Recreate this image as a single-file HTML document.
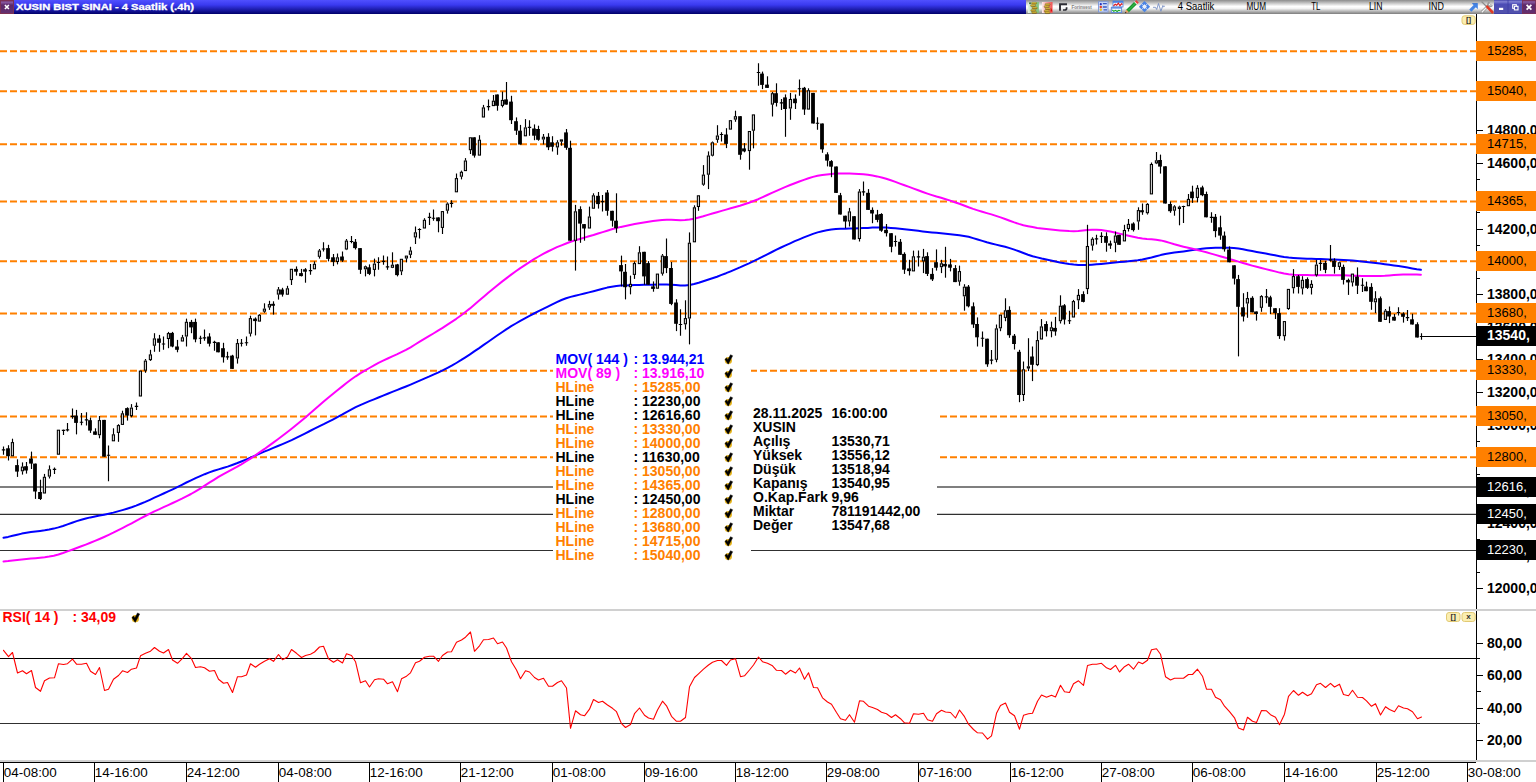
<!DOCTYPE html>
<html><head><meta charset="utf-8"><title>XUSIN</title><style>
html,body{margin:0;padding:0;background:#fff;overflow:hidden}
body{width:1536px;height:782px;position:relative;font-family:"Liberation Sans",sans-serif}
svg{position:absolute;left:0;top:0;display:block}
text{font-family:"Liberation Sans",sans-serif}
.ax{font-weight:bold;font-size:14px;fill:#000}
.lg{font-weight:bold;font-size:14px}
.pl{font-size:13px}
.tm{font-size:13px;fill:#000}
.tb{font-size:10px;fill:#000}
</style></head><body>
<svg width="1536" height="782" viewBox="0 0 1536 782">
<defs>
<linearGradient id="gb" x1="0" y1="0" x2="0" y2="1"><stop offset="0" stop-color="#5050ff"/><stop offset="0.35" stop-color="#3a3af0"/><stop offset="1" stop-color="#00006a"/></linearGradient>
<linearGradient id="gs" x1="0" y1="0" x2="0" y2="1"><stop offset="0" stop-color="#8c8c8c"/><stop offset="0.45" stop-color="#ffffff"/><stop offset="0.6" stop-color="#f4f4f4"/><stop offset="1" stop-color="#7c7c7c"/></linearGradient>
<linearGradient id="gp" x1="0" y1="0" x2="0" y2="1"><stop offset="0" stop-color="#8a5c9c"/><stop offset="1" stop-color="#4c2460"/></linearGradient>
<linearGradient id="gw" x1="0" y1="0" x2="0" y2="1"><stop offset="0" stop-color="#6a6ae0"/><stop offset="1" stop-color="#2c2c98"/></linearGradient>
<g id="ck" transform="translate(0,0.6)"><circle cx="-0.1" cy="0.5" r="3.6" fill="#e6b41c"/><path d="M-3.6,-0.7 L-0.3,4.2 L4.2,-4.2 L2.0,-5.3 L-0.7,-0.3 L-1.7,-2.1 Z" fill="#000" stroke="#000" stroke-width="0.4" stroke-linejoin="round"/></g>
</defs>
<rect x="0" y="0" width="1536" height="782" fill="#fff"/>
<line x1="0" y1="51.20" x2="1476" y2="51.20" stroke="#ff8000" stroke-width="2" stroke-dasharray="7 3"/>
<line x1="0" y1="91.24" x2="1476" y2="91.24" stroke="#ff8000" stroke-width="2" stroke-dasharray="7 3"/>
<line x1="0" y1="144.35" x2="1476" y2="144.35" stroke="#ff8000" stroke-width="2" stroke-dasharray="7 3"/>
<line x1="0" y1="201.55" x2="1476" y2="201.55" stroke="#ff8000" stroke-width="2" stroke-dasharray="7 3"/>
<line x1="0" y1="261.19" x2="1476" y2="261.19" stroke="#ff8000" stroke-width="2" stroke-dasharray="7 3"/>
<line x1="0" y1="313.49" x2="1476" y2="313.49" stroke="#ff8000" stroke-width="2" stroke-dasharray="7 3"/>
<line x1="0" y1="370.69" x2="1476" y2="370.69" stroke="#ff8000" stroke-width="2" stroke-dasharray="7 3"/>
<line x1="0" y1="416.44" x2="1476" y2="416.44" stroke="#ff8000" stroke-width="2" stroke-dasharray="7 3"/>
<line x1="0" y1="457.30" x2="1476" y2="457.30" stroke="#ff8000" stroke-width="2" stroke-dasharray="7 3"/>
<line x1="0" y1="486.96" x2="1476" y2="486.96" stroke="#000" stroke-width="1.05"/>
<line x1="0" y1="514.35" x2="1476" y2="514.35" stroke="#303030" stroke-width="1.05"/>
<line x1="0" y1="550.4" x2="1476" y2="550.4" stroke="#303030" stroke-width="1.05"/>
<polyline points="3.5,537.8 8.1,536.9 12.6,535.8 17.2,534.7 21.8,533.6 26.4,532.8 30.9,532.1 35.5,531.4 40.1,530.9 44.7,530.3 49.2,529.6 53.8,528.6 58.4,527.4 63.0,526.0 67.5,524.4 72.1,522.7 76.7,521.1 81.3,519.7 85.8,518.5 90.4,517.4 95.0,516.5 99.5,515.6 104.1,514.7 108.7,513.7 113.3,512.6 117.8,511.4 122.4,510.1 127.0,508.7 131.6,507.2 136.1,505.6 140.7,503.8 145.3,501.9 149.9,499.8 154.4,497.7 159.0,495.6 163.6,493.5 168.2,491.4 172.7,489.3 177.3,487.1 181.9,484.8 186.4,482.5 191.0,480.3 195.6,478.1 200.2,476.1 204.7,474.2 209.3,472.4 213.9,470.8 218.5,469.4 223.0,468.0 227.6,466.6 232.2,465.0 236.8,463.3 241.3,461.5 245.9,459.6 250.5,457.7 255.1,455.7 259.6,453.7 264.2,451.7 268.8,449.8 273.3,447.9 277.9,446.0 282.5,444.1 287.1,442.1 291.6,440.1 296.2,437.9 300.8,435.6 305.4,433.3 309.9,431.0 314.5,428.7 319.1,426.4 323.7,424.2 328.2,421.9 332.8,419.6 337.4,417.2 342.0,414.7 346.5,412.1 351.1,409.6 355.7,407.2 360.2,405.1 364.8,403.1 369.4,401.2 374.0,399.3 378.5,397.5 383.1,395.6 387.7,393.8 392.3,391.9 396.8,390.1 401.4,388.3 406.0,386.5 410.6,384.6 415.1,382.7 419.7,380.7 424.3,378.7 428.9,376.7 433.4,374.6 438.0,372.6 442.6,370.4 447.1,368.1 451.7,365.7 456.3,363.0 460.9,360.2 465.4,357.3 470.0,354.3 474.6,351.2 479.2,348.1 483.7,344.9 488.3,341.7 492.9,338.5 497.5,335.3 502.0,332.2 506.6,329.1 511.2,326.2 515.8,323.5 520.3,320.8 524.9,318.3 529.5,315.9 534.0,313.5 538.6,311.2 543.2,308.9 547.8,306.6 552.3,304.3 556.9,302.1 561.5,300.0 566.1,298.3 570.6,296.9 575.2,295.7 579.8,294.6 584.4,293.5 588.9,292.4 593.5,291.2 598.1,290.0 602.7,288.7 607.2,287.6 611.8,286.7 616.4,286.0 620.9,285.6 625.5,285.4 630.1,285.2 634.7,285.1 639.2,285.0 643.8,284.8 648.4,284.7 653.0,284.7 657.5,284.6 662.1,284.5 666.7,284.5 671.3,284.7 675.8,285.0 680.4,285.4 685.0,285.4 689.6,284.9 694.1,284.0 698.7,282.7 703.3,281.2 707.8,279.8 712.4,278.3 717.0,276.7 721.6,274.9 726.1,273.2 730.7,271.3 735.3,269.4 739.9,267.4 744.4,265.3 749.0,263.3 753.6,261.1 758.2,258.9 762.7,256.6 767.3,254.3 771.9,252.0 776.5,249.7 781.0,247.5 785.6,245.4 790.2,243.3 794.8,241.2 799.3,239.3 803.9,237.4 808.5,235.6 813.0,233.9 817.6,232.4 822.2,231.2 826.8,230.3 831.3,229.6 835.9,229.1 840.5,228.8 845.1,228.7 849.6,228.6 854.2,228.5 858.8,228.3 863.4,228.1 867.9,227.9 872.5,227.6 877.1,227.5 881.7,227.4 886.2,227.6 890.8,227.9 895.4,228.3 899.9,228.7 904.5,229.2 909.1,229.7 913.7,230.2 918.2,230.8 922.8,231.4 927.4,231.9 932.0,232.4 936.5,232.8 941.1,233.3 945.7,233.8 950.3,234.2 954.8,234.7 959.4,235.2 964.0,235.9 968.6,236.8 973.1,238.1 977.7,239.5 982.3,240.9 986.8,242.3 991.4,243.5 996.0,244.6 1000.6,245.7 1005.1,246.8 1009.7,248.1 1014.3,249.6 1018.9,251.3 1023.4,253.0 1028.0,254.7 1032.6,256.2 1037.2,257.4 1041.7,258.5 1046.3,259.5 1050.9,260.4 1055.5,261.4 1060.0,262.4 1064.6,263.3 1069.2,264.0 1073.7,264.5 1078.3,264.9 1082.9,265.0 1087.5,265.0 1092.0,264.7 1096.6,264.3 1101.2,263.9 1105.8,263.4 1110.3,263.0 1114.9,262.5 1119.5,262.1 1124.1,261.7 1128.6,261.3 1133.2,260.8 1137.8,260.3 1142.4,259.6 1146.9,258.6 1151.5,257.5 1156.1,256.2 1160.6,255.1 1165.2,254.1 1169.8,253.3 1174.4,252.6 1178.9,252.0 1183.5,251.4 1188.1,250.8 1192.7,250.1 1197.2,249.4 1201.8,248.8 1206.4,248.2 1211.0,247.9 1215.5,247.7 1220.1,247.7 1224.7,247.7 1229.3,247.8 1233.8,248.0 1238.4,248.5 1243.0,249.3 1247.5,250.2 1252.1,251.1 1256.7,252.0 1261.3,252.8 1265.8,253.6 1270.4,254.4 1275.0,255.3 1279.6,256.2 1284.1,257.0 1288.7,257.6 1293.3,258.0 1297.9,258.3 1302.4,258.5 1307.0,258.7 1311.6,258.8 1316.2,259.0 1320.7,259.1 1325.3,259.3 1329.9,259.4 1334.4,259.6 1339.0,259.8 1343.6,260.0 1348.2,260.3 1352.7,260.6 1357.3,261.0 1361.9,261.4 1366.5,261.9 1371.0,262.4 1375.6,263.0 1380.2,263.6 1384.8,264.2 1389.3,264.8 1393.9,265.5 1398.5,266.1 1403.1,266.8 1407.6,267.6 1412.2,268.4 1416.8,269.2 1420.9,269.8" fill="none" stroke="#0000ff" stroke-width="2" stroke-linejoin="round" stroke-linecap="round"/>
<polyline points="3.5,561.5 8.1,561.1 12.6,560.6 17.2,560.1 21.8,559.6 26.4,559.1 30.9,558.6 35.5,558.2 40.1,557.7 44.7,557.2 49.2,556.6 53.8,555.7 58.4,554.5 63.0,553.0 67.5,551.4 72.1,549.7 76.7,548.0 81.3,546.3 85.8,544.6 90.4,542.8 95.0,540.9 99.5,539.0 104.1,537.0 108.7,534.9 113.3,532.7 117.8,530.4 122.4,528.1 127.0,525.7 131.6,523.3 136.1,520.8 140.7,518.4 145.3,516.0 149.9,513.6 154.4,511.4 159.0,509.3 163.6,507.2 168.2,505.1 172.7,503.0 177.3,500.9 181.9,498.7 186.4,496.4 191.0,494.0 195.6,491.4 200.2,488.7 204.7,485.7 209.3,482.7 213.9,479.8 218.5,476.9 223.0,474.3 227.6,471.8 232.2,469.3 236.8,466.9 241.3,464.3 245.9,461.5 250.5,458.6 255.1,455.5 259.6,452.3 264.2,449.2 268.8,445.9 273.3,442.6 277.9,439.2 282.5,435.7 287.1,432.2 291.6,428.7 296.2,425.0 300.8,421.3 305.4,417.5 309.9,413.5 314.5,409.5 319.1,405.5 323.7,401.5 328.2,397.7 332.8,394.0 337.4,390.3 342.0,386.6 346.5,383.0 351.1,379.5 355.7,376.3 360.2,373.4 364.8,370.7 369.4,368.0 374.0,365.4 378.5,362.9 383.1,360.6 387.7,358.5 392.3,356.4 396.8,354.4 401.4,352.2 406.0,349.9 410.6,347.3 415.1,344.5 419.7,341.7 424.3,338.9 428.9,336.2 433.4,333.5 438.0,330.7 442.6,327.9 447.1,324.9 451.7,321.9 456.3,318.8 460.9,315.5 465.4,312.0 470.0,308.4 474.6,304.5 479.2,300.6 483.7,296.7 488.3,292.8 492.9,289.0 497.5,285.2 502.0,281.6 506.6,278.1 511.2,274.6 515.8,271.3 520.3,268.1 524.9,265.1 529.5,262.1 534.0,259.2 538.6,256.5 543.2,253.9 547.8,251.5 552.3,249.3 556.9,247.2 561.5,245.3 566.1,243.5 570.6,241.8 575.2,240.3 579.8,239.0 584.4,237.6 588.9,236.3 593.5,235.0 598.1,233.5 602.7,232.1 607.2,230.7 611.8,229.3 616.4,228.0 620.9,226.9 625.5,225.9 630.1,224.9 634.7,224.0 639.2,223.2 643.8,222.4 648.4,221.7 653.0,221.0 657.5,220.4 662.1,219.9 666.7,219.7 671.3,219.8 675.8,220.0 680.4,220.2 685.0,220.1 689.6,219.6 694.1,218.7 698.7,217.5 703.3,216.3 707.8,214.9 712.4,213.5 717.0,212.2 721.6,210.9 726.1,209.6 730.7,208.3 735.3,207.0 739.9,205.7 744.4,204.2 749.0,202.7 753.6,201.0 758.2,199.2 762.7,197.1 767.3,195.0 771.9,192.9 776.5,190.8 781.0,188.8 785.6,186.9 790.2,185.0 794.8,183.2 799.3,181.5 803.9,179.9 808.5,178.3 813.0,176.9 817.6,175.8 822.2,175.0 826.8,174.4 831.3,173.9 835.9,173.6 840.5,173.5 845.1,173.5 849.6,173.6 854.2,173.7 858.8,173.9 863.4,174.3 867.9,174.8 872.5,175.5 877.1,176.4 881.7,177.5 886.2,178.8 890.8,180.3 895.4,181.9 899.9,183.6 904.5,185.3 909.1,186.9 913.7,188.6 918.2,190.3 922.8,192.0 927.4,193.6 932.0,195.1 936.5,196.5 941.1,197.8 945.7,199.2 950.3,200.6 954.8,202.2 959.4,203.8 964.0,205.5 968.6,207.3 973.1,208.9 977.7,210.4 982.3,211.8 986.8,213.1 991.4,214.4 996.0,215.9 1000.6,217.4 1005.1,219.0 1009.7,220.7 1014.3,222.4 1018.9,223.9 1023.4,225.2 1028.0,226.2 1032.6,227.1 1037.2,227.9 1041.7,228.5 1046.3,229.1 1050.9,229.6 1055.5,230.0 1060.0,230.4 1064.6,230.8 1069.2,231.1 1073.7,231.2 1078.3,231.0 1082.9,230.5 1087.5,230.0 1092.0,229.7 1096.6,229.8 1101.2,230.1 1105.8,230.7 1110.3,231.6 1114.9,232.5 1119.5,233.6 1124.1,234.8 1128.6,235.8 1133.2,236.8 1137.8,237.7 1142.4,238.4 1146.9,238.9 1151.5,239.3 1156.1,239.7 1160.6,240.4 1165.2,241.5 1169.8,242.9 1174.4,244.3 1178.9,245.5 1183.5,246.7 1188.1,247.8 1192.7,248.8 1197.2,250.0 1201.8,251.1 1206.4,252.3 1211.0,253.6 1215.5,254.9 1220.1,256.2 1224.7,257.5 1229.3,258.9 1233.8,260.2 1238.4,261.6 1243.0,263.0 1247.5,264.3 1252.1,265.6 1256.7,266.8 1261.3,268.0 1265.8,269.1 1270.4,270.3 1275.0,271.4 1279.6,272.6 1284.1,273.6 1288.7,274.3 1293.3,274.7 1297.9,274.9 1302.4,275.0 1307.0,275.1 1311.6,275.2 1316.2,275.2 1320.7,275.2 1325.3,275.2 1329.9,275.2 1334.4,275.2 1339.0,275.3 1343.6,275.3 1348.2,275.5 1352.7,275.7 1357.3,275.8 1361.9,275.9 1366.5,276.0 1371.0,276.0 1375.6,276.0 1380.2,275.9 1384.8,275.8 1389.3,275.5 1393.9,275.1 1398.5,274.8 1403.1,274.6 1407.6,274.5 1412.2,274.6 1416.8,274.6 1420.9,274.7" fill="none" stroke="#ff00ff" stroke-width="2" stroke-linejoin="round" stroke-linecap="round"/>
<g>
<path d="M3.5,446.4V454.8M1.8,449.8H5.2" stroke="#000" stroke-width="1.15" fill="none"/>
<path d="M8.5,445.2V460.5" stroke="#000" stroke-width="1.15" fill="none"/>
<rect x="6.1" y="448.3" width="3.8" height="7.9" fill="#000"/>
<path d="M12.5,438.7V442.1" stroke="#000" stroke-width="1.15" fill="none"/>
<rect x="11.35" y="442.6" width="2.15" height="13.2" fill="#d2d2d2" stroke="#000" stroke-width="1.05"/>
<path d="M17.5,459.3V476.9" stroke="#000" stroke-width="1.15" fill="none"/>
<rect x="15.1" y="465.1" width="3.8" height="6.5" fill="#000"/>
<path d="M22.5,462.4V466.7" stroke="#000" stroke-width="1.15" fill="none"/>
<path d="M22.5,471.3V474.6" stroke="#000" stroke-width="1.15" fill="none"/>
<rect x="21.35" y="467.1" width="2.15" height="3.7" fill="#d2d2d2" stroke="#000" stroke-width="1.05"/>
<path d="M26.5,462.0V473.6" stroke="#000" stroke-width="1.15" fill="none"/>
<rect x="24.1" y="466.2" width="3.8" height="4.3" fill="#000"/>
<path d="M31.5,451.6V469.0" stroke="#000" stroke-width="1.15" fill="none"/>
<rect x="29.1" y="458.5" width="3.8" height="5.1" fill="#000"/>
<path d="M35.5,463.6V498.9" stroke="#000" stroke-width="1.15" fill="none"/>
<rect x="33.1" y="463.6" width="3.8" height="27.9" fill="#000"/>
<path d="M40.5,479.7V500.0" stroke="#000" stroke-width="1.15" fill="none"/>
<rect x="38.1" y="492.0" width="3.8" height="7.0" fill="#000"/>
<path d="M44.5,473.9V476.9" stroke="#000" stroke-width="1.15" fill="none"/>
<rect x="43.35" y="477.3" width="2.15" height="15.7" fill="#d2d2d2" stroke="#000" stroke-width="1.05"/>
<path d="M49.5,465.4V469.4" stroke="#000" stroke-width="1.15" fill="none"/>
<path d="M49.5,476.6V478.5" stroke="#000" stroke-width="1.15" fill="none"/>
<rect x="48.35" y="469.8" width="2.15" height="6.3" fill="#d2d2d2" stroke="#000" stroke-width="1.05"/>
<path d="M54.5,467.4V473.9M52.8,469.4H56.2" stroke="#000" stroke-width="1.15" fill="none"/>
<rect x="57.35" y="430.2" width="2.15" height="24.0" fill="#d2d2d2" stroke="#000" stroke-width="1.05"/>
<path d="M63.5,429.4V434.9M61.8,430.3H65.2" stroke="#000" stroke-width="1.15" fill="none"/>
<path d="M67.5,422.9V431.4M65.8,429.8H69.2" stroke="#000" stroke-width="1.15" fill="none"/>
<path d="M72.5,408.4V418.8M70.8,416.3H74.2" stroke="#000" stroke-width="1.15" fill="none"/>
<path d="M76.5,409.9V434.4" stroke="#000" stroke-width="1.15" fill="none"/>
<rect x="74.1" y="415.6" width="3.8" height="7.3" fill="#000"/>
<path d="M81.5,413.0V425.2M79.8,422.2H83.2" stroke="#000" stroke-width="1.15" fill="none"/>
<path d="M86.5,412.2V425.6M84.8,419.9H88.2" stroke="#000" stroke-width="1.15" fill="none"/>
<path d="M90.5,417.6V432.9" stroke="#000" stroke-width="1.15" fill="none"/>
<rect x="88.1" y="420.2" width="3.8" height="10.4" fill="#000"/>
<path d="M95.5,428.3V434.8" stroke="#000" stroke-width="1.15" fill="none"/>
<rect x="93.1" y="431.4" width="3.8" height="3.4" fill="#000"/>
<path d="M99.5,416.0V420.2" stroke="#000" stroke-width="1.15" fill="none"/>
<path d="M99.5,435.2V438.3" stroke="#000" stroke-width="1.15" fill="none"/>
<rect x="98.35" y="420.6" width="2.15" height="14.1" fill="#d2d2d2" stroke="#000" stroke-width="1.05"/>
<path d="M104.5,419.9V456.7" stroke="#000" stroke-width="1.15" fill="none"/>
<rect x="102.1" y="419.9" width="3.8" height="36.8" fill="#000"/>
<path d="M108.5,445.5V481.2M106.8,455.2H110.2" stroke="#000" stroke-width="1.15" fill="none"/>
<path d="M113.5,428.3V434.4" stroke="#000" stroke-width="1.15" fill="none"/>
<rect x="112.35" y="434.8" width="2.15" height="6.0" fill="#d2d2d2" stroke="#000" stroke-width="1.05"/>
<path d="M118.5,424.2V425.2" stroke="#000" stroke-width="1.15" fill="none"/>
<path d="M118.5,432.9V441.8" stroke="#000" stroke-width="1.15" fill="none"/>
<rect x="117.35" y="425.6" width="2.15" height="6.8" fill="#d2d2d2" stroke="#000" stroke-width="1.05"/>
<path d="M122.5,410.7V413.4" stroke="#000" stroke-width="1.15" fill="none"/>
<rect x="121.35" y="413.8" width="2.15" height="10.6" fill="#d2d2d2" stroke="#000" stroke-width="1.05"/>
<path d="M127.5,407.3V420.6" stroke="#000" stroke-width="1.15" fill="none"/>
<rect x="125.1" y="408.1" width="3.8" height="7.5" fill="#000"/>
<path d="M131.5,404.1V407.6" stroke="#000" stroke-width="1.15" fill="none"/>
<path d="M131.5,416.0V417.3" stroke="#000" stroke-width="1.15" fill="none"/>
<rect x="130.35" y="408.1" width="2.15" height="7.5" fill="#d2d2d2" stroke="#000" stroke-width="1.05"/>
<path d="M136.5,402.5V409.9M134.8,406.4H138.2" stroke="#000" stroke-width="1.15" fill="none"/>
<rect x="139.35" y="371.1" width="2.15" height="24.9" fill="#d2d2d2" stroke="#000" stroke-width="1.05"/>
<path d="M145.5,359.0V360.6" stroke="#000" stroke-width="1.15" fill="none"/>
<path d="M145.5,370.6V372.8" stroke="#000" stroke-width="1.15" fill="none"/>
<rect x="144.35" y="361.1" width="2.15" height="9.1" fill="#d2d2d2" stroke="#000" stroke-width="1.05"/>
<path d="M150.5,349.8V354.5" stroke="#000" stroke-width="1.15" fill="none"/>
<path d="M150.5,360.1V361.0" stroke="#000" stroke-width="1.15" fill="none"/>
<rect x="149.35" y="354.9" width="2.15" height="4.7" fill="#d2d2d2" stroke="#000" stroke-width="1.05"/>
<path d="M154.5,333.2V338.5" stroke="#000" stroke-width="1.15" fill="none"/>
<path d="M154.5,345.7V351.8" stroke="#000" stroke-width="1.15" fill="none"/>
<rect x="153.35" y="338.9" width="2.15" height="6.3" fill="#d2d2d2" stroke="#000" stroke-width="1.05"/>
<path d="M159.5,334.9V351.8" stroke="#000" stroke-width="1.15" fill="none"/>
<rect x="157.1" y="338.5" width="3.8" height="4.3" fill="#000"/>
<path d="M163.5,336.5V349.8M161.8,344.0H165.2" stroke="#000" stroke-width="1.15" fill="none"/>
<path d="M168.5,331.9V333.2" stroke="#000" stroke-width="1.15" fill="none"/>
<path d="M168.5,339.0V348.2" stroke="#000" stroke-width="1.15" fill="none"/>
<rect x="167.35" y="333.6" width="2.15" height="4.9" fill="#d2d2d2" stroke="#000" stroke-width="1.05"/>
<path d="M172.5,331.9V347.3" stroke="#000" stroke-width="1.15" fill="none"/>
<rect x="170.1" y="332.9" width="3.8" height="13.6" fill="#000"/>
<path d="M177.5,339.9V352.3" stroke="#000" stroke-width="1.15" fill="none"/>
<rect x="175.1" y="346.5" width="3.8" height="3.3" fill="#000"/>
<path d="M182.5,334.9V337.4" stroke="#000" stroke-width="1.15" fill="none"/>
<rect x="181.35" y="337.8" width="2.15" height="3.2" fill="#d2d2d2" stroke="#000" stroke-width="1.05"/>
<path d="M186.5,318.6V321.9" stroke="#000" stroke-width="1.15" fill="none"/>
<path d="M186.5,336.5V346.5" stroke="#000" stroke-width="1.15" fill="none"/>
<rect x="185.35" y="322.3" width="2.15" height="13.7" fill="#d2d2d2" stroke="#000" stroke-width="1.05"/>
<path d="M191.5,319.9V333.2" stroke="#000" stroke-width="1.15" fill="none"/>
<rect x="189.1" y="321.9" width="3.8" height="5.5" fill="#000"/>
<path d="M195.5,318.6V342.3" stroke="#000" stroke-width="1.15" fill="none"/>
<rect x="193.1" y="321.9" width="3.8" height="17.5" fill="#000"/>
<path d="M200.5,335.7V344.0M198.8,338.2H202.2" stroke="#000" stroke-width="1.15" fill="none"/>
<path d="M204.5,329.4V340.7M202.8,337.9H206.2" stroke="#000" stroke-width="1.15" fill="none"/>
<path d="M209.5,333.2V346.5" stroke="#000" stroke-width="1.15" fill="none"/>
<rect x="207.1" y="336.5" width="3.8" height="7.2" fill="#000"/>
<path d="M214.5,340.7V350.7M212.8,342.3H216.2" stroke="#000" stroke-width="1.15" fill="none"/>
<path d="M218.5,342.3V352.3" stroke="#000" stroke-width="1.15" fill="none"/>
<rect x="216.1" y="342.3" width="3.8" height="10.0" fill="#000"/>
<path d="M223.5,342.8V362.6" stroke="#000" stroke-width="1.15" fill="none"/>
<rect x="221.1" y="348.2" width="3.8" height="9.1" fill="#000"/>
<path d="M227.5,351.8V359.8M225.8,356.8H229.2" stroke="#000" stroke-width="1.15" fill="none"/>
<path d="M232.5,354.8V368.9" stroke="#000" stroke-width="1.15" fill="none"/>
<rect x="230.1" y="355.6" width="3.8" height="13.3" fill="#000"/>
<path d="M237.5,339.0V343.2" stroke="#000" stroke-width="1.15" fill="none"/>
<path d="M237.5,358.5V363.6" stroke="#000" stroke-width="1.15" fill="none"/>
<rect x="236.35" y="343.6" width="2.15" height="14.4" fill="#d2d2d2" stroke="#000" stroke-width="1.05"/>
<path d="M241.5,339.0V346.5M239.8,343.2H243.2" stroke="#000" stroke-width="1.15" fill="none"/>
<path d="M246.5,336.5V345.7M244.8,342.7H248.2" stroke="#000" stroke-width="1.15" fill="none"/>
<path d="M250.5,315.7V318.2" stroke="#000" stroke-width="1.15" fill="none"/>
<path d="M250.5,333.7V336.5" stroke="#000" stroke-width="1.15" fill="none"/>
<rect x="249.35" y="318.6" width="2.15" height="14.6" fill="#d2d2d2" stroke="#000" stroke-width="1.05"/>
<path d="M255.5,317.4V335.4" stroke="#000" stroke-width="1.15" fill="none"/>
<rect x="253.1" y="318.6" width="3.8" height="2.5" fill="#000"/>
<path d="M259.5,314.1V314.9" stroke="#000" stroke-width="1.15" fill="none"/>
<rect x="258.35" y="315.3" width="2.15" height="5.8" fill="#d2d2d2" stroke="#000" stroke-width="1.05"/>
<path d="M264.5,303.3V308.6" stroke="#000" stroke-width="1.15" fill="none"/>
<path d="M264.5,311.6V312.8" stroke="#000" stroke-width="1.15" fill="none"/>
<rect x="263.35" y="309.1" width="2.15" height="2.1" fill="#d2d2d2" stroke="#000" stroke-width="1.05"/>
<path d="M269.5,300.8V304.1" stroke="#000" stroke-width="1.15" fill="none"/>
<path d="M269.5,307.4V309.9" stroke="#000" stroke-width="1.15" fill="none"/>
<rect x="268.35" y="304.6" width="2.15" height="2.4" fill="#d2d2d2" stroke="#000" stroke-width="1.05"/>
<path d="M273.5,301.3V314.6" stroke="#000" stroke-width="1.15" fill="none"/>
<rect x="271.1" y="303.8" width="3.8" height="2.0" fill="#000"/>
<path d="M278.5,287.0V289.5" stroke="#000" stroke-width="1.15" fill="none"/>
<path d="M278.5,294.6V299.6" stroke="#000" stroke-width="1.15" fill="none"/>
<rect x="277.35" y="289.9" width="2.15" height="4.2" fill="#d2d2d2" stroke="#000" stroke-width="1.05"/>
<path d="M282.5,287.8V296.6" stroke="#000" stroke-width="1.15" fill="none"/>
<rect x="280.1" y="289.5" width="3.8" height="5.1" fill="#000"/>
<path d="M287.5,285.8V288.3" stroke="#000" stroke-width="1.15" fill="none"/>
<rect x="286.35" y="288.8" width="2.15" height="5.4" fill="#d2d2d2" stroke="#000" stroke-width="1.05"/>
<path d="M291.5,280.1V285.0" stroke="#000" stroke-width="1.15" fill="none"/>
<rect x="290.35" y="269.3" width="2.15" height="10.3" fill="#d2d2d2" stroke="#000" stroke-width="1.05"/>
<path d="M296.5,266.4V275.6" stroke="#000" stroke-width="1.15" fill="none"/>
<rect x="294.1" y="268.9" width="3.8" height="2.8" fill="#000"/>
<path d="M301.5,268.9V276.4" stroke="#000" stroke-width="1.15" fill="none"/>
<rect x="299.1" y="273.1" width="3.8" height="3.0" fill="#000"/>
<path d="M305.5,268.1V282.7" stroke="#000" stroke-width="1.15" fill="none"/>
<rect x="303.1" y="269.3" width="3.8" height="2.4" fill="#000"/>
<path d="M310.5,263.9V274.7M308.8,270.6H312.2" stroke="#000" stroke-width="1.15" fill="none"/>
<path d="M314.5,261.4V263.9" stroke="#000" stroke-width="1.15" fill="none"/>
<rect x="313.35" y="264.3" width="2.15" height="4.5" fill="#d2d2d2" stroke="#000" stroke-width="1.05"/>
<path d="M319.5,249.0V250.6" stroke="#000" stroke-width="1.15" fill="none"/>
<path d="M319.5,256.8V258.6" stroke="#000" stroke-width="1.15" fill="none"/>
<rect x="318.35" y="251.0" width="2.15" height="5.3" fill="#d2d2d2" stroke="#000" stroke-width="1.05"/>
<path d="M323.5,242.3V251.5M321.8,249.0H325.2" stroke="#000" stroke-width="1.15" fill="none"/>
<path d="M328.5,244.8V261.4" stroke="#000" stroke-width="1.15" fill="none"/>
<rect x="326.1" y="248.1" width="3.8" height="10.8" fill="#000"/>
<path d="M333.5,254.0V266.1" stroke="#000" stroke-width="1.15" fill="none"/>
<rect x="331.1" y="257.3" width="3.8" height="4.6" fill="#000"/>
<path d="M337.5,253.5V257.3" stroke="#000" stroke-width="1.15" fill="none"/>
<path d="M337.5,261.9V264.4" stroke="#000" stroke-width="1.15" fill="none"/>
<rect x="336.35" y="257.8" width="2.15" height="3.7" fill="#d2d2d2" stroke="#000" stroke-width="1.05"/>
<path d="M342.5,251.5V261.9" stroke="#000" stroke-width="1.15" fill="none"/>
<rect x="340.1" y="256.5" width="3.8" height="4.1" fill="#000"/>
<path d="M346.5,239.0V240.7" stroke="#000" stroke-width="1.15" fill="none"/>
<path d="M346.5,249.5V250.1" stroke="#000" stroke-width="1.15" fill="none"/>
<rect x="345.35" y="241.1" width="2.15" height="7.9" fill="#d2d2d2" stroke="#000" stroke-width="1.05"/>
<path d="M351.5,236.0V243.2M349.8,241.5H353.2" stroke="#000" stroke-width="1.15" fill="none"/>
<path d="M355.5,239.0V249.5" stroke="#000" stroke-width="1.15" fill="none"/>
<rect x="353.1" y="241.8" width="3.8" height="6.3" fill="#000"/>
<path d="M360.5,248.1V273.9" stroke="#000" stroke-width="1.15" fill="none"/>
<rect x="358.1" y="248.1" width="3.8" height="21.7" fill="#000"/>
<path d="M365.5,265.6V266.4" stroke="#000" stroke-width="1.15" fill="none"/>
<path d="M365.5,269.3V276.4" stroke="#000" stroke-width="1.15" fill="none"/>
<rect x="364.35" y="266.8" width="2.15" height="2.0" fill="#d2d2d2" stroke="#000" stroke-width="1.05"/>
<path d="M369.5,264.4V275.1" stroke="#000" stroke-width="1.15" fill="none"/>
<rect x="367.1" y="267.3" width="3.8" height="6.6" fill="#000"/>
<path d="M374.5,258.6V263.6" stroke="#000" stroke-width="1.15" fill="none"/>
<path d="M374.5,269.8V276.4" stroke="#000" stroke-width="1.15" fill="none"/>
<rect x="373.35" y="264.1" width="2.15" height="5.3" fill="#d2d2d2" stroke="#000" stroke-width="1.05"/>
<path d="M378.5,257.3V269.8M376.8,262.3H380.2" stroke="#000" stroke-width="1.15" fill="none"/>
<path d="M383.5,255.6V264.8M381.8,261.4H385.2" stroke="#000" stroke-width="1.15" fill="none"/>
<path d="M387.5,256.5V269.8M385.8,266.8H389.2" stroke="#000" stroke-width="1.15" fill="none"/>
<path d="M392.5,252.3V264.8" stroke="#000" stroke-width="1.15" fill="none"/>
<path d="M392.5,267.8V268.1" stroke="#000" stroke-width="1.15" fill="none"/>
<rect x="391.35" y="265.2" width="2.15" height="2.1" fill="#d2d2d2" stroke="#000" stroke-width="1.05"/>
<path d="M397.5,263.9V276.4" stroke="#000" stroke-width="1.15" fill="none"/>
<rect x="395.1" y="264.4" width="3.8" height="10.7" fill="#000"/>
<path d="M401.5,271.4V275.1" stroke="#000" stroke-width="1.15" fill="none"/>
<rect x="400.35" y="259.3" width="2.15" height="11.6" fill="#d2d2d2" stroke="#000" stroke-width="1.05"/>
<path d="M406.5,258.4V262.3" stroke="#000" stroke-width="1.15" fill="none"/>
<rect x="405.35" y="256.1" width="2.15" height="1.9" fill="#d2d2d2" stroke="#000" stroke-width="1.05"/>
<path d="M410.5,246.8V250.6" stroke="#000" stroke-width="1.15" fill="none"/>
<path d="M410.5,254.8V258.1" stroke="#000" stroke-width="1.15" fill="none"/>
<rect x="409.35" y="251.0" width="2.15" height="3.3" fill="#d2d2d2" stroke="#000" stroke-width="1.05"/>
<path d="M415.5,226.5V232.3" stroke="#000" stroke-width="1.15" fill="none"/>
<path d="M415.5,237.3V244.0" stroke="#000" stroke-width="1.15" fill="none"/>
<rect x="414.35" y="232.8" width="2.15" height="4.1" fill="#d2d2d2" stroke="#000" stroke-width="1.05"/>
<path d="M419.5,228.2V238.5M417.8,229.5H421.2" stroke="#000" stroke-width="1.15" fill="none"/>
<path d="M424.5,218.2V219.9" stroke="#000" stroke-width="1.15" fill="none"/>
<rect x="423.35" y="220.3" width="2.15" height="7.7" fill="#d2d2d2" stroke="#000" stroke-width="1.05"/>
<path d="M429.5,212.7V224.9M427.8,217.4H431.2" stroke="#000" stroke-width="1.15" fill="none"/>
<path d="M433.5,209.4V220.7M431.8,218.2H435.2" stroke="#000" stroke-width="1.15" fill="none"/>
<path d="M438.5,217.4V232.3" stroke="#000" stroke-width="1.15" fill="none"/>
<rect x="436.1" y="217.4" width="3.8" height="3.8" fill="#000"/>
<path d="M442.5,227.9V234.0" stroke="#000" stroke-width="1.15" fill="none"/>
<rect x="441.35" y="211.6" width="2.15" height="15.8" fill="#d2d2d2" stroke="#000" stroke-width="1.05"/>
<path d="M447.5,202.4V203.7" stroke="#000" stroke-width="1.15" fill="none"/>
<path d="M447.5,210.7V213.6" stroke="#000" stroke-width="1.15" fill="none"/>
<rect x="446.35" y="204.1" width="2.15" height="6.1" fill="#d2d2d2" stroke="#000" stroke-width="1.05"/>
<path d="M451.5,200.3V207.4M449.8,203.3H453.2" stroke="#000" stroke-width="1.15" fill="none"/>
<path d="M456.5,173.5V178.2" stroke="#000" stroke-width="1.15" fill="none"/>
<rect x="455.35" y="178.6" width="2.15" height="13.2" fill="#d2d2d2" stroke="#000" stroke-width="1.05"/>
<path d="M461.5,170.6V171.9" stroke="#000" stroke-width="1.15" fill="none"/>
<path d="M461.5,176.7V179.4" stroke="#000" stroke-width="1.15" fill="none"/>
<rect x="460.35" y="172.3" width="2.15" height="3.9" fill="#d2d2d2" stroke="#000" stroke-width="1.05"/>
<path d="M465.5,158.1V160.6" stroke="#000" stroke-width="1.15" fill="none"/>
<rect x="464.35" y="161.0" width="2.15" height="9.6" fill="#d2d2d2" stroke="#000" stroke-width="1.05"/>
<path d="M470.5,150.1V154.0" stroke="#000" stroke-width="1.15" fill="none"/>
<rect x="469.35" y="137.8" width="2.15" height="11.9" fill="#d2d2d2" stroke="#000" stroke-width="1.05"/>
<path d="M474.5,137.3V157.6" stroke="#000" stroke-width="1.15" fill="none"/>
<rect x="472.1" y="137.3" width="3.8" height="18.3" fill="#000"/>
<path d="M479.5,135.2V139.8" stroke="#000" stroke-width="1.15" fill="none"/>
<rect x="478.35" y="140.2" width="2.15" height="14.9" fill="#d2d2d2" stroke="#000" stroke-width="1.05"/>
<path d="M483.5,104.9V107.4" stroke="#000" stroke-width="1.15" fill="none"/>
<rect x="482.35" y="107.9" width="2.15" height="9.1" fill="#d2d2d2" stroke="#000" stroke-width="1.05"/>
<path d="M488.5,99.4V110.4M486.8,106.6H490.2" stroke="#000" stroke-width="1.15" fill="none"/>
<path d="M493.5,95.0V100.8" stroke="#000" stroke-width="1.15" fill="none"/>
<rect x="492.35" y="101.2" width="2.15" height="4.4" fill="#d2d2d2" stroke="#000" stroke-width="1.05"/>
<path d="M497.5,94.5V110.7" stroke="#000" stroke-width="1.15" fill="none"/>
<rect x="495.1" y="94.5" width="3.8" height="11.3" fill="#000"/>
<path d="M502.5,91.6V99.9" stroke="#000" stroke-width="1.15" fill="none"/>
<path d="M502.5,105.8V107.4" stroke="#000" stroke-width="1.15" fill="none"/>
<rect x="501.35" y="100.4" width="2.15" height="5.0" fill="#d2d2d2" stroke="#000" stroke-width="1.05"/>
<path d="M506.5,82.0V104.6" stroke="#000" stroke-width="1.15" fill="none"/>
<rect x="504.1" y="99.4" width="3.8" height="5.2" fill="#000"/>
<path d="M511.5,95.8V124.0" stroke="#000" stroke-width="1.15" fill="none"/>
<rect x="509.1" y="101.6" width="3.8" height="18.6" fill="#000"/>
<path d="M516.5,117.4V134.9" stroke="#000" stroke-width="1.15" fill="none"/>
<rect x="514.1" y="121.2" width="3.8" height="9.5" fill="#000"/>
<path d="M520.5,124.9V144.5" stroke="#000" stroke-width="1.15" fill="none"/>
<rect x="518.1" y="130.7" width="3.8" height="13.8" fill="#000"/>
<path d="M525.5,119.1V127.4" stroke="#000" stroke-width="1.15" fill="none"/>
<rect x="524.35" y="127.9" width="2.15" height="7.9" fill="#d2d2d2" stroke="#000" stroke-width="1.05"/>
<path d="M529.5,120.2V135.7M527.8,127.4H531.2" stroke="#000" stroke-width="1.15" fill="none"/>
<path d="M534.5,124.4V140.2" stroke="#000" stroke-width="1.15" fill="none"/>
<rect x="532.1" y="128.5" width="3.8" height="7.2" fill="#000"/>
<path d="M538.5,125.7V140.7" stroke="#000" stroke-width="1.15" fill="none"/>
<rect x="536.1" y="129.0" width="3.8" height="10.8" fill="#000"/>
<path d="M543.5,134.0V136.8" stroke="#000" stroke-width="1.15" fill="none"/>
<path d="M543.5,139.5V144.5" stroke="#000" stroke-width="1.15" fill="none"/>
<rect x="542.35" y="137.2" width="2.15" height="1.8" fill="#d2d2d2" stroke="#000" stroke-width="1.05"/>
<path d="M548.5,133.2V150.1" stroke="#000" stroke-width="1.15" fill="none"/>
<rect x="546.1" y="136.8" width="3.8" height="10.5" fill="#000"/>
<path d="M552.5,136.2V151.5" stroke="#000" stroke-width="1.15" fill="none"/>
<rect x="550.1" y="142.3" width="3.8" height="4.5" fill="#000"/>
<path d="M557.5,140.2V142.3" stroke="#000" stroke-width="1.15" fill="none"/>
<path d="M557.5,147.3V154.8" stroke="#000" stroke-width="1.15" fill="none"/>
<rect x="556.35" y="142.8" width="2.15" height="4.1" fill="#d2d2d2" stroke="#000" stroke-width="1.05"/>
<path d="M561.5,141.5V145.7" stroke="#000" stroke-width="1.15" fill="none"/>
<rect x="560.35" y="139.9" width="2.15" height="1.2" fill="#d2d2d2" stroke="#000" stroke-width="1.05"/>
<path d="M566.5,129.0V149.8" stroke="#000" stroke-width="1.15" fill="none"/>
<rect x="564.1" y="132.4" width="3.8" height="15.4" fill="#000"/>
<path d="M570.5,140.7V240.7" stroke="#000" stroke-width="1.15" fill="none"/>
<rect x="568.1" y="147.8" width="3.8" height="92.9" fill="#000"/>
<path d="M575.5,204.9V211.3" stroke="#000" stroke-width="1.15" fill="none"/>
<path d="M575.5,240.7V270.6" stroke="#000" stroke-width="1.15" fill="none"/>
<rect x="574.35" y="211.8" width="2.15" height="28.5" fill="#d2d2d2" stroke="#000" stroke-width="1.05"/>
<path d="M580.5,206.3V242.8" stroke="#000" stroke-width="1.15" fill="none"/>
<rect x="578.1" y="209.1" width="3.8" height="14.5" fill="#000"/>
<path d="M584.5,224.1V240.7" stroke="#000" stroke-width="1.15" fill="none"/>
<rect x="582.1" y="224.1" width="3.8" height="4.4" fill="#000"/>
<path d="M589.5,206.6V216.6" stroke="#000" stroke-width="1.15" fill="none"/>
<rect x="588.35" y="217.0" width="2.15" height="11.0" fill="#d2d2d2" stroke="#000" stroke-width="1.05"/>
<path d="M593.5,193.3V195.3" stroke="#000" stroke-width="1.15" fill="none"/>
<rect x="592.35" y="195.8" width="2.15" height="12.4" fill="#d2d2d2" stroke="#000" stroke-width="1.05"/>
<path d="M598.5,192.0V208.6" stroke="#000" stroke-width="1.15" fill="none"/>
<rect x="596.1" y="195.8" width="3.8" height="8.3" fill="#000"/>
<path d="M602.5,195.0V211.6M600.8,201.6H604.2" stroke="#000" stroke-width="1.15" fill="none"/>
<path d="M607.5,190.0V215.7" stroke="#000" stroke-width="1.15" fill="none"/>
<rect x="605.1" y="192.5" width="3.8" height="18.3" fill="#000"/>
<path d="M612.5,210.8V226.6" stroke="#000" stroke-width="1.15" fill="none"/>
<rect x="610.1" y="210.8" width="3.8" height="9.9" fill="#000"/>
<path d="M616.5,193.3V232.9" stroke="#000" stroke-width="1.15" fill="none"/>
<rect x="614.1" y="220.7" width="3.8" height="7.5" fill="#000"/>
<path d="M621.5,255.6V286.4" stroke="#000" stroke-width="1.15" fill="none"/>
<rect x="619.1" y="265.1" width="3.8" height="6.3" fill="#000"/>
<path d="M625.5,264.0V299.4" stroke="#000" stroke-width="1.15" fill="none"/>
<rect x="623.1" y="271.8" width="3.8" height="15.4" fill="#000"/>
<path d="M630.5,275.6V283.9" stroke="#000" stroke-width="1.15" fill="none"/>
<path d="M630.5,287.2V294.4" stroke="#000" stroke-width="1.15" fill="none"/>
<rect x="629.35" y="284.3" width="2.15" height="2.4" fill="#d2d2d2" stroke="#000" stroke-width="1.05"/>
<path d="M634.5,261.5V263.1" stroke="#000" stroke-width="1.15" fill="none"/>
<path d="M634.5,274.8V278.9" stroke="#000" stroke-width="1.15" fill="none"/>
<rect x="633.35" y="263.6" width="2.15" height="10.8" fill="#d2d2d2" stroke="#000" stroke-width="1.05"/>
<path d="M639.5,246.2V252.3" stroke="#000" stroke-width="1.15" fill="none"/>
<rect x="638.35" y="252.8" width="2.15" height="10.8" fill="#d2d2d2" stroke="#000" stroke-width="1.05"/>
<path d="M644.5,251.8V284.7" stroke="#000" stroke-width="1.15" fill="none"/>
<rect x="642.1" y="251.8" width="3.8" height="24.6" fill="#000"/>
<path d="M648.5,261.1V284.7" stroke="#000" stroke-width="1.15" fill="none"/>
<rect x="646.1" y="263.1" width="3.8" height="21.6" fill="#000"/>
<path d="M653.5,281.4V291.7" stroke="#000" stroke-width="1.15" fill="none"/>
<rect x="651.1" y="286.4" width="3.8" height="2.5" fill="#000"/>
<rect x="656.35" y="274.1" width="2.15" height="14.1" fill="#d2d2d2" stroke="#000" stroke-width="1.05"/>
<path d="M662.5,254.0V255.6" stroke="#000" stroke-width="1.15" fill="none"/>
<path d="M662.5,273.6V275.6" stroke="#000" stroke-width="1.15" fill="none"/>
<rect x="661.35" y="256.1" width="2.15" height="17.1" fill="#d2d2d2" stroke="#000" stroke-width="1.05"/>
<path d="M666.5,238.5V273.1" stroke="#000" stroke-width="1.15" fill="none"/>
<rect x="664.1" y="256.1" width="3.8" height="12.0" fill="#000"/>
<path d="M671.5,262.0V305.2" stroke="#000" stroke-width="1.15" fill="none"/>
<rect x="669.1" y="268.0" width="3.8" height="35.9" fill="#000"/>
<path d="M676.5,299.2V331.1" stroke="#000" stroke-width="1.15" fill="none"/>
<rect x="674.1" y="302.5" width="3.8" height="21.3" fill="#000"/>
<path d="M680.5,309.2V335.8M678.8,324.5H682.2" stroke="#000" stroke-width="1.15" fill="none"/>
<path d="M685.5,300.3V318.1" stroke="#000" stroke-width="1.15" fill="none"/>
<path d="M685.5,324.2V329.5" stroke="#000" stroke-width="1.15" fill="none"/>
<rect x="684.35" y="318.6" width="2.15" height="5.2" fill="#d2d2d2" stroke="#000" stroke-width="1.05"/>
<path d="M689.5,232.4V242.8" stroke="#000" stroke-width="1.15" fill="none"/>
<path d="M689.5,318.5V344.4" stroke="#000" stroke-width="1.15" fill="none"/>
<rect x="688.35" y="243.2" width="2.15" height="74.8" fill="#d2d2d2" stroke="#000" stroke-width="1.05"/>
<path d="M694.5,205.3V207.4" stroke="#000" stroke-width="1.15" fill="none"/>
<rect x="693.35" y="207.8" width="2.15" height="34.0" fill="#d2d2d2" stroke="#000" stroke-width="1.05"/>
<path d="M698.5,206.9V210.8" stroke="#000" stroke-width="1.15" fill="none"/>
<rect x="697.35" y="195.8" width="2.15" height="10.7" fill="#d2d2d2" stroke="#000" stroke-width="1.05"/>
<path d="M703.5,165.1V174.7" stroke="#000" stroke-width="1.15" fill="none"/>
<path d="M703.5,184.7V185.8" stroke="#000" stroke-width="1.15" fill="none"/>
<rect x="702.35" y="175.1" width="2.15" height="9.1" fill="#d2d2d2" stroke="#000" stroke-width="1.05"/>
<path d="M708.5,151.4V155.6" stroke="#000" stroke-width="1.15" fill="none"/>
<path d="M708.5,174.7V189.1" stroke="#000" stroke-width="1.15" fill="none"/>
<rect x="707.35" y="156.0" width="2.15" height="18.2" fill="#d2d2d2" stroke="#000" stroke-width="1.05"/>
<path d="M712.5,141.5V142.3" stroke="#000" stroke-width="1.15" fill="none"/>
<path d="M712.5,155.6V156.4" stroke="#000" stroke-width="1.15" fill="none"/>
<rect x="711.35" y="142.8" width="2.15" height="12.4" fill="#d2d2d2" stroke="#000" stroke-width="1.05"/>
<path d="M717.5,125.2V135.6" stroke="#000" stroke-width="1.15" fill="none"/>
<path d="M717.5,139.8V142.8" stroke="#000" stroke-width="1.15" fill="none"/>
<rect x="716.35" y="136.0" width="2.15" height="3.3" fill="#d2d2d2" stroke="#000" stroke-width="1.05"/>
<path d="M721.5,132.3V141.5M719.8,134.5H723.2" stroke="#000" stroke-width="1.15" fill="none"/>
<path d="M726.5,128.2V148.1" stroke="#000" stroke-width="1.15" fill="none"/>
<rect x="724.1" y="134.5" width="3.8" height="9.4" fill="#000"/>
<rect x="729.35" y="120.7" width="2.15" height="8.4" fill="#d2d2d2" stroke="#000" stroke-width="1.05"/>
<path d="M735.5,110.7V116.2" stroke="#000" stroke-width="1.15" fill="none"/>
<path d="M735.5,119.5V121.8" stroke="#000" stroke-width="1.15" fill="none"/>
<rect x="734.35" y="116.7" width="2.15" height="2.4" fill="#d2d2d2" stroke="#000" stroke-width="1.05"/>
<path d="M740.5,116.2V159.7" stroke="#000" stroke-width="1.15" fill="none"/>
<rect x="738.1" y="116.2" width="3.8" height="38.6" fill="#000"/>
<path d="M744.5,143.1V152.3" stroke="#000" stroke-width="1.15" fill="none"/>
<rect x="742.1" y="148.4" width="3.8" height="3.0" fill="#000"/>
<path d="M749.5,151.1V169.7" stroke="#000" stroke-width="1.15" fill="none"/>
<rect x="748.35" y="131.5" width="2.15" height="19.1" fill="#d2d2d2" stroke="#000" stroke-width="1.05"/>
<path d="M753.5,130.6V148.4" stroke="#000" stroke-width="1.15" fill="none"/>
<rect x="752.35" y="114.9" width="2.15" height="15.3" fill="#d2d2d2" stroke="#000" stroke-width="1.05"/>
<path d="M758.5,63.3V85.8M756.8,72.5H760.2" stroke="#000" stroke-width="1.15" fill="none"/>
<path d="M762.5,71.6V89.1" stroke="#000" stroke-width="1.15" fill="none"/>
<rect x="760.1" y="73.6" width="3.8" height="11.3" fill="#000"/>
<path d="M767.5,76.3V87.9" stroke="#000" stroke-width="1.15" fill="none"/>
<rect x="765.1" y="84.6" width="3.8" height="3.3" fill="#000"/>
<path d="M772.5,91.9V93.2" stroke="#000" stroke-width="1.15" fill="none"/>
<path d="M772.5,104.5V116.5" stroke="#000" stroke-width="1.15" fill="none"/>
<rect x="771.35" y="93.7" width="2.15" height="10.4" fill="#d2d2d2" stroke="#000" stroke-width="1.05"/>
<path d="M776.5,83.3V106.5" stroke="#000" stroke-width="1.15" fill="none"/>
<rect x="774.1" y="93.2" width="3.8" height="9.7" fill="#000"/>
<path d="M781.5,99.1V109.9M779.8,102.9H783.2" stroke="#000" stroke-width="1.15" fill="none"/>
<path d="M785.5,94.4V136.8" stroke="#000" stroke-width="1.15" fill="none"/>
<rect x="783.1" y="97.4" width="3.8" height="11.6" fill="#000"/>
<path d="M790.5,92.9V99.1" stroke="#000" stroke-width="1.15" fill="none"/>
<path d="M790.5,108.5V119.8" stroke="#000" stroke-width="1.15" fill="none"/>
<rect x="789.35" y="99.5" width="2.15" height="8.5" fill="#d2d2d2" stroke="#000" stroke-width="1.05"/>
<path d="M795.5,94.4V109.0" stroke="#000" stroke-width="1.15" fill="none"/>
<rect x="793.1" y="98.6" width="3.8" height="4.6" fill="#000"/>
<path d="M799.5,79.4V95.7M797.8,88.7H801.2" stroke="#000" stroke-width="1.15" fill="none"/>
<path d="M804.5,86.9V114.9" stroke="#000" stroke-width="1.15" fill="none"/>
<rect x="802.1" y="87.8" width="3.8" height="21.7" fill="#000"/>
<path d="M808.5,88.3V90.2" stroke="#000" stroke-width="1.15" fill="none"/>
<rect x="807.35" y="90.7" width="2.15" height="18.4" fill="#d2d2d2" stroke="#000" stroke-width="1.05"/>
<path d="M813.5,92.9V123.5" stroke="#000" stroke-width="1.15" fill="none"/>
<rect x="811.1" y="92.9" width="3.8" height="30.6" fill="#000"/>
<path d="M817.5,117.3V129.8M815.8,123.2H819.2" stroke="#000" stroke-width="1.15" fill="none"/>
<path d="M822.5,123.5V152.8" stroke="#000" stroke-width="1.15" fill="none"/>
<rect x="820.1" y="123.5" width="3.8" height="25.9" fill="#000"/>
<path d="M827.5,152.3V166.4" stroke="#000" stroke-width="1.15" fill="none"/>
<rect x="825.1" y="154.3" width="3.8" height="6.3" fill="#000"/>
<path d="M831.5,160.1V177.2" stroke="#000" stroke-width="1.15" fill="none"/>
<rect x="829.1" y="161.1" width="3.8" height="5.6" fill="#000"/>
<path d="M836.5,166.5V192.9" stroke="#000" stroke-width="1.15" fill="none"/>
<rect x="834.1" y="166.5" width="3.8" height="26.4" fill="#000"/>
<path d="M840.5,192.9V214.5" stroke="#000" stroke-width="1.15" fill="none"/>
<rect x="838.1" y="195.2" width="3.8" height="19.3" fill="#000"/>
<path d="M845.5,215.7V228.2" stroke="#000" stroke-width="1.15" fill="none"/>
<rect x="843.1" y="215.7" width="3.8" height="5.8" fill="#000"/>
<path d="M849.5,207.9V211.5" stroke="#000" stroke-width="1.15" fill="none"/>
<path d="M849.5,221.5V226.5" stroke="#000" stroke-width="1.15" fill="none"/>
<rect x="848.35" y="211.9" width="2.15" height="9.1" fill="#d2d2d2" stroke="#000" stroke-width="1.05"/>
<path d="M854.5,216.2V239.5" stroke="#000" stroke-width="1.15" fill="none"/>
<rect x="852.1" y="216.2" width="3.8" height="23.3" fill="#000"/>
<path d="M859.5,189.1V191.6" stroke="#000" stroke-width="1.15" fill="none"/>
<path d="M859.5,239.0V241.5" stroke="#000" stroke-width="1.15" fill="none"/>
<rect x="858.35" y="192.0" width="2.15" height="46.5" fill="#d2d2d2" stroke="#000" stroke-width="1.05"/>
<path d="M863.5,181.5V195.7M861.8,191.9H865.2" stroke="#000" stroke-width="1.15" fill="none"/>
<path d="M868.5,189.1V209.9" stroke="#000" stroke-width="1.15" fill="none"/>
<rect x="866.1" y="192.8" width="3.8" height="17.1" fill="#000"/>
<path d="M872.5,207.4V223.2" stroke="#000" stroke-width="1.15" fill="none"/>
<rect x="870.1" y="209.9" width="3.8" height="3.6" fill="#000"/>
<path d="M877.5,209.9V222.3" stroke="#000" stroke-width="1.15" fill="none"/>
<rect x="875.1" y="214.5" width="3.8" height="5.4" fill="#000"/>
<path d="M881.5,213.2V231.8" stroke="#000" stroke-width="1.15" fill="none"/>
<rect x="879.1" y="214.0" width="3.8" height="16.7" fill="#000"/>
<path d="M886.5,224.0V236.5" stroke="#000" stroke-width="1.15" fill="none"/>
<rect x="884.1" y="229.8" width="3.8" height="3.4" fill="#000"/>
<path d="M891.5,233.2V252.3" stroke="#000" stroke-width="1.15" fill="none"/>
<rect x="889.1" y="233.2" width="3.8" height="13.6" fill="#000"/>
<path d="M895.5,235.6V246.5M893.8,241.5H897.2" stroke="#000" stroke-width="1.15" fill="none"/>
<path d="M900.5,239.0V254.8" stroke="#000" stroke-width="1.15" fill="none"/>
<rect x="898.1" y="241.8" width="3.8" height="13.0" fill="#000"/>
<path d="M904.5,252.3V273.9" stroke="#000" stroke-width="1.15" fill="none"/>
<rect x="902.1" y="253.9" width="3.8" height="15.8" fill="#000"/>
<path d="M909.5,259.8V275.5" stroke="#000" stroke-width="1.15" fill="none"/>
<rect x="907.1" y="268.4" width="3.8" height="2.7" fill="#000"/>
<path d="M913.5,250.6V256.4" stroke="#000" stroke-width="1.15" fill="none"/>
<rect x="912.35" y="256.8" width="2.15" height="14.1" fill="#d2d2d2" stroke="#000" stroke-width="1.05"/>
<path d="M918.5,250.6V266.4M916.8,256.8H920.2" stroke="#000" stroke-width="1.15" fill="none"/>
<path d="M923.5,248.9V256.8" stroke="#000" stroke-width="1.15" fill="none"/>
<path d="M923.5,261.4V273.1" stroke="#000" stroke-width="1.15" fill="none"/>
<rect x="922.35" y="257.2" width="2.15" height="3.7" fill="#d2d2d2" stroke="#000" stroke-width="1.05"/>
<path d="M927.5,252.3V276.0" stroke="#000" stroke-width="1.15" fill="none"/>
<rect x="925.1" y="256.1" width="3.8" height="17.8" fill="#000"/>
<path d="M932.5,268.1V281.0" stroke="#000" stroke-width="1.15" fill="none"/>
<rect x="930.1" y="273.9" width="3.8" height="5.5" fill="#000"/>
<path d="M936.5,249.4V270.6" stroke="#000" stroke-width="1.15" fill="none"/>
<rect x="934.1" y="262.2" width="3.8" height="5.5" fill="#000"/>
<path d="M941.5,259.8V263.4" stroke="#000" stroke-width="1.15" fill="none"/>
<path d="M941.5,267.2V273.1" stroke="#000" stroke-width="1.15" fill="none"/>
<rect x="940.35" y="263.8" width="2.15" height="2.9" fill="#d2d2d2" stroke="#000" stroke-width="1.05"/>
<path d="M945.5,246.8V277.7" stroke="#000" stroke-width="1.15" fill="none"/>
<rect x="943.1" y="263.9" width="3.8" height="2.5" fill="#000"/>
<path d="M950.5,258.9V271.4" stroke="#000" stroke-width="1.15" fill="none"/>
<rect x="948.1" y="264.4" width="3.8" height="3.3" fill="#000"/>
<path d="M955.5,265.1V282.1" stroke="#000" stroke-width="1.15" fill="none"/>
<rect x="953.1" y="268.1" width="3.8" height="14.0" fill="#000"/>
<path d="M959.5,265.6V271.1" stroke="#000" stroke-width="1.15" fill="none"/>
<path d="M959.5,281.5V285.7" stroke="#000" stroke-width="1.15" fill="none"/>
<rect x="958.35" y="271.6" width="2.15" height="9.5" fill="#d2d2d2" stroke="#000" stroke-width="1.05"/>
<path d="M964.5,284.2V286.8" stroke="#000" stroke-width="1.15" fill="none"/>
<path d="M964.5,296.3V310.7" stroke="#000" stroke-width="1.15" fill="none"/>
<rect x="963.35" y="287.2" width="2.15" height="8.6" fill="#d2d2d2" stroke="#000" stroke-width="1.05"/>
<path d="M968.5,285.0V307.4" stroke="#000" stroke-width="1.15" fill="none"/>
<rect x="966.1" y="286.6" width="3.8" height="19.7" fill="#000"/>
<path d="M973.5,302.4V327.9" stroke="#000" stroke-width="1.15" fill="none"/>
<rect x="971.1" y="306.3" width="3.8" height="18.2" fill="#000"/>
<path d="M977.5,317.4V346.5" stroke="#000" stroke-width="1.15" fill="none"/>
<rect x="975.1" y="324.0" width="3.8" height="13.3" fill="#000"/>
<path d="M982.5,331.5V346.8M980.8,338.2H984.2" stroke="#000" stroke-width="1.15" fill="none"/>
<path d="M987.5,338.7V366.8" stroke="#000" stroke-width="1.15" fill="none"/>
<rect x="985.1" y="338.7" width="3.8" height="25.6" fill="#000"/>
<path d="M991.5,350.1V364.3M989.8,360.1H993.2" stroke="#000" stroke-width="1.15" fill="none"/>
<path d="M996.5,324.5V328.5" stroke="#000" stroke-width="1.15" fill="none"/>
<path d="M996.5,359.8V362.3" stroke="#000" stroke-width="1.15" fill="none"/>
<rect x="995.35" y="328.9" width="2.15" height="30.4" fill="#d2d2d2" stroke="#000" stroke-width="1.05"/>
<path d="M1000.5,328.2V331.2" stroke="#000" stroke-width="1.15" fill="none"/>
<rect x="999.35" y="315.1" width="2.15" height="12.7" fill="#d2d2d2" stroke="#000" stroke-width="1.05"/>
<path d="M1005.5,298.3V310.4" stroke="#000" stroke-width="1.15" fill="none"/>
<path d="M1005.5,317.9V321.2" stroke="#000" stroke-width="1.15" fill="none"/>
<rect x="1004.35" y="310.8" width="2.15" height="6.6" fill="#d2d2d2" stroke="#000" stroke-width="1.05"/>
<path d="M1009.5,306.3V337.8" stroke="#000" stroke-width="1.15" fill="none"/>
<rect x="1007.1" y="309.9" width="3.8" height="25.3" fill="#000"/>
<path d="M1014.5,334.0V349.5" stroke="#000" stroke-width="1.15" fill="none"/>
<rect x="1012.1" y="335.7" width="3.8" height="8.3" fill="#000"/>
<path d="M1019.5,349.8V402.2" stroke="#000" stroke-width="1.15" fill="none"/>
<rect x="1017.1" y="351.8" width="3.8" height="43.2" fill="#000"/>
<path d="M1023.5,361.5V369.4" stroke="#000" stroke-width="1.15" fill="none"/>
<path d="M1023.5,395.0V401.0" stroke="#000" stroke-width="1.15" fill="none"/>
<rect x="1022.35" y="369.8" width="2.15" height="24.7" fill="#d2d2d2" stroke="#000" stroke-width="1.05"/>
<path d="M1028.5,338.2V366.3" stroke="#000" stroke-width="1.15" fill="none"/>
<path d="M1028.5,368.3V371.1" stroke="#000" stroke-width="1.15" fill="none"/>
<rect x="1027.35" y="366.8" width="2.15" height="1.2" fill="#d2d2d2" stroke="#000" stroke-width="1.05"/>
<path d="M1032.5,346.5V381.1" stroke="#000" stroke-width="1.15" fill="none"/>
<rect x="1030.1" y="356.5" width="3.8" height="8.3" fill="#000"/>
<path d="M1037.5,331.2V340.2" stroke="#000" stroke-width="1.15" fill="none"/>
<path d="M1037.5,365.1V366.1" stroke="#000" stroke-width="1.15" fill="none"/>
<rect x="1036.35" y="340.6" width="2.15" height="24.0" fill="#d2d2d2" stroke="#000" stroke-width="1.05"/>
<path d="M1041.5,319.1V326.5" stroke="#000" stroke-width="1.15" fill="none"/>
<rect x="1040.35" y="326.9" width="2.15" height="12.1" fill="#d2d2d2" stroke="#000" stroke-width="1.05"/>
<path d="M1046.5,321.2V336.5" stroke="#000" stroke-width="1.15" fill="none"/>
<rect x="1044.1" y="324.0" width="3.8" height="7.2" fill="#000"/>
<path d="M1051.5,321.6V327.4" stroke="#000" stroke-width="1.15" fill="none"/>
<path d="M1051.5,331.2V337.3" stroke="#000" stroke-width="1.15" fill="none"/>
<rect x="1050.35" y="327.8" width="2.15" height="2.9" fill="#d2d2d2" stroke="#000" stroke-width="1.05"/>
<path d="M1055.5,316.9V335.7" stroke="#000" stroke-width="1.15" fill="none"/>
<rect x="1053.1" y="327.9" width="3.8" height="3.6" fill="#000"/>
<path d="M1060.5,295.3V305.8" stroke="#000" stroke-width="1.15" fill="none"/>
<path d="M1060.5,321.2V323.5" stroke="#000" stroke-width="1.15" fill="none"/>
<rect x="1059.35" y="306.2" width="2.15" height="14.5" fill="#d2d2d2" stroke="#000" stroke-width="1.05"/>
<path d="M1064.5,304.1V324.5" stroke="#000" stroke-width="1.15" fill="none"/>
<rect x="1062.1" y="305.3" width="3.8" height="14.3" fill="#000"/>
<path d="M1069.5,310.7V324.0M1067.8,320.7H1071.2" stroke="#000" stroke-width="1.15" fill="none"/>
<path d="M1073.5,299.9V301.1" stroke="#000" stroke-width="1.15" fill="none"/>
<rect x="1072.35" y="301.6" width="2.15" height="15.4" fill="#d2d2d2" stroke="#000" stroke-width="1.05"/>
<path d="M1078.5,289.1V295.0" stroke="#000" stroke-width="1.15" fill="none"/>
<path d="M1078.5,300.3V309.1" stroke="#000" stroke-width="1.15" fill="none"/>
<rect x="1077.35" y="295.4" width="2.15" height="4.4" fill="#d2d2d2" stroke="#000" stroke-width="1.05"/>
<path d="M1083.5,291.3V302.4" stroke="#000" stroke-width="1.15" fill="none"/>
<rect x="1081.1" y="294.1" width="3.8" height="7.8" fill="#000"/>
<path d="M1087.5,224.8V246.1" stroke="#000" stroke-width="1.15" fill="none"/>
<path d="M1087.5,289.1V294.1" stroke="#000" stroke-width="1.15" fill="none"/>
<rect x="1086.35" y="246.5" width="2.15" height="42.1" fill="#d2d2d2" stroke="#000" stroke-width="1.05"/>
<path d="M1092.5,237.3V238.9" stroke="#000" stroke-width="1.15" fill="none"/>
<path d="M1092.5,245.6V250.6" stroke="#000" stroke-width="1.15" fill="none"/>
<rect x="1091.35" y="239.3" width="2.15" height="5.8" fill="#d2d2d2" stroke="#000" stroke-width="1.05"/>
<path d="M1096.5,234.8V244.4M1094.8,238.9H1098.2" stroke="#000" stroke-width="1.15" fill="none"/>
<path d="M1101.5,232.3V243.1M1099.8,236.4H1103.2" stroke="#000" stroke-width="1.15" fill="none"/>
<path d="M1106.5,232.3V251.7" stroke="#000" stroke-width="1.15" fill="none"/>
<rect x="1104.1" y="236.1" width="3.8" height="6.7" fill="#000"/>
<path d="M1110.5,240.6V248.9" stroke="#000" stroke-width="1.15" fill="none"/>
<rect x="1108.1" y="243.4" width="3.8" height="2.2" fill="#000"/>
<path d="M1115.5,231.5V235.6" stroke="#000" stroke-width="1.15" fill="none"/>
<path d="M1115.5,242.8V252.2" stroke="#000" stroke-width="1.15" fill="none"/>
<rect x="1114.35" y="236.0" width="2.15" height="6.3" fill="#d2d2d2" stroke="#000" stroke-width="1.05"/>
<path d="M1119.5,234.8V244.8" stroke="#000" stroke-width="1.15" fill="none"/>
<rect x="1117.1" y="234.8" width="3.8" height="10.0" fill="#000"/>
<path d="M1124.5,224.8V230.1" stroke="#000" stroke-width="1.15" fill="none"/>
<rect x="1123.35" y="230.5" width="2.15" height="10.4" fill="#d2d2d2" stroke="#000" stroke-width="1.05"/>
<path d="M1128.5,219.0V224.0" stroke="#000" stroke-width="1.15" fill="none"/>
<path d="M1128.5,229.0V231.5" stroke="#000" stroke-width="1.15" fill="none"/>
<rect x="1127.35" y="224.4" width="2.15" height="4.1" fill="#d2d2d2" stroke="#000" stroke-width="1.05"/>
<path d="M1133.5,222.3V231.5" stroke="#000" stroke-width="1.15" fill="none"/>
<rect x="1131.1" y="223.5" width="3.8" height="6.6" fill="#000"/>
<path d="M1138.5,207.3V210.2" stroke="#000" stroke-width="1.15" fill="none"/>
<path d="M1138.5,221.5V229.8" stroke="#000" stroke-width="1.15" fill="none"/>
<rect x="1137.35" y="210.6" width="2.15" height="10.4" fill="#d2d2d2" stroke="#000" stroke-width="1.05"/>
<path d="M1142.5,203.5V214.8" stroke="#000" stroke-width="1.15" fill="none"/>
<rect x="1140.1" y="210.2" width="3.8" height="2.1" fill="#000"/>
<path d="M1147.5,203.2V204.0" stroke="#000" stroke-width="1.15" fill="none"/>
<path d="M1147.5,213.2V214.5" stroke="#000" stroke-width="1.15" fill="none"/>
<rect x="1146.35" y="204.4" width="2.15" height="8.3" fill="#d2d2d2" stroke="#000" stroke-width="1.05"/>
<path d="M1151.5,162.5V164.1" stroke="#000" stroke-width="1.15" fill="none"/>
<rect x="1150.35" y="164.5" width="2.15" height="29.4" fill="#d2d2d2" stroke="#000" stroke-width="1.05"/>
<path d="M1156.5,152.0V160.3" stroke="#000" stroke-width="1.15" fill="none"/>
<path d="M1156.5,163.3V164.1" stroke="#000" stroke-width="1.15" fill="none"/>
<rect x="1155.35" y="160.8" width="2.15" height="2.1" fill="#d2d2d2" stroke="#000" stroke-width="1.05"/>
<path d="M1160.5,154.6V173.6" stroke="#000" stroke-width="1.15" fill="none"/>
<rect x="1158.1" y="160.0" width="3.8" height="6.6" fill="#000"/>
<path d="M1165.5,166.3V203.5" stroke="#000" stroke-width="1.15" fill="none"/>
<rect x="1163.1" y="166.3" width="3.8" height="37.2" fill="#000"/>
<path d="M1170.5,201.5V212.8" stroke="#000" stroke-width="1.15" fill="none"/>
<rect x="1168.1" y="204.0" width="3.8" height="7.2" fill="#000"/>
<path d="M1174.5,205.2V206.5" stroke="#000" stroke-width="1.15" fill="none"/>
<path d="M1174.5,210.7V215.7" stroke="#000" stroke-width="1.15" fill="none"/>
<rect x="1173.35" y="206.9" width="2.15" height="3.3" fill="#d2d2d2" stroke="#000" stroke-width="1.05"/>
<path d="M1179.5,205.7V206.8" stroke="#000" stroke-width="1.15" fill="none"/>
<path d="M1179.5,209.0V225.3" stroke="#000" stroke-width="1.15" fill="none"/>
<rect x="1178.35" y="207.2" width="2.15" height="1.3" fill="#d2d2d2" stroke="#000" stroke-width="1.05"/>
<path d="M1183.5,205.7V223.1M1181.8,206.5H1185.2" stroke="#000" stroke-width="1.15" fill="none"/>
<path d="M1188.5,194.0V199.0" stroke="#000" stroke-width="1.15" fill="none"/>
<rect x="1187.35" y="199.4" width="2.15" height="6.3" fill="#d2d2d2" stroke="#000" stroke-width="1.05"/>
<path d="M1192.5,185.7V202.9" stroke="#000" stroke-width="1.15" fill="none"/>
<rect x="1190.1" y="191.6" width="3.8" height="6.6" fill="#000"/>
<path d="M1197.5,185.2V187.9" stroke="#000" stroke-width="1.15" fill="none"/>
<path d="M1197.5,197.9V202.4" stroke="#000" stroke-width="1.15" fill="none"/>
<rect x="1196.35" y="188.3" width="2.15" height="9.1" fill="#d2d2d2" stroke="#000" stroke-width="1.05"/>
<path d="M1202.5,185.7V196.2" stroke="#000" stroke-width="1.15" fill="none"/>
<rect x="1200.1" y="187.4" width="3.8" height="7.8" fill="#000"/>
<path d="M1206.5,191.6V217.3" stroke="#000" stroke-width="1.15" fill="none"/>
<rect x="1204.1" y="194.0" width="3.8" height="23.3" fill="#000"/>
<path d="M1211.5,212.3V222.8M1209.8,217.3H1213.2" stroke="#000" stroke-width="1.15" fill="none"/>
<path d="M1215.5,214.0V237.3" stroke="#000" stroke-width="1.15" fill="none"/>
<rect x="1213.1" y="216.8" width="3.8" height="14.3" fill="#000"/>
<path d="M1220.5,215.7V239.8" stroke="#000" stroke-width="1.15" fill="none"/>
<rect x="1218.1" y="227.3" width="3.8" height="8.3" fill="#000"/>
<path d="M1224.5,231.5V251.6" stroke="#000" stroke-width="1.15" fill="none"/>
<rect x="1222.1" y="235.6" width="3.8" height="13.7" fill="#000"/>
<path d="M1229.5,246.4V262.3" stroke="#000" stroke-width="1.15" fill="none"/>
<rect x="1227.1" y="249.5" width="3.8" height="12.8" fill="#000"/>
<path d="M1234.5,265.3V284.5" stroke="#000" stroke-width="1.15" fill="none"/>
<rect x="1232.1" y="265.3" width="3.8" height="13.3" fill="#000"/>
<path d="M1238.5,274.9V356.4" stroke="#000" stroke-width="1.15" fill="none"/>
<rect x="1236.1" y="279.1" width="3.8" height="27.7" fill="#000"/>
<path d="M1243.5,293.2V321.5" stroke="#000" stroke-width="1.15" fill="none"/>
<rect x="1241.1" y="307.3" width="3.8" height="9.2" fill="#000"/>
<path d="M1247.5,291.9V298.2" stroke="#000" stroke-width="1.15" fill="none"/>
<path d="M1247.5,303.5V317.8" stroke="#000" stroke-width="1.15" fill="none"/>
<rect x="1246.35" y="298.6" width="2.15" height="4.4" fill="#d2d2d2" stroke="#000" stroke-width="1.05"/>
<path d="M1252.5,296.2V312.3" stroke="#000" stroke-width="1.15" fill="none"/>
<rect x="1250.1" y="297.8" width="3.8" height="14.5" fill="#000"/>
<path d="M1256.5,311.5V320.6" stroke="#000" stroke-width="1.15" fill="none"/>
<rect x="1254.1" y="311.5" width="3.8" height="2.5" fill="#000"/>
<path d="M1261.5,295.2V296.2" stroke="#000" stroke-width="1.15" fill="none"/>
<path d="M1261.5,307.8V311.8" stroke="#000" stroke-width="1.15" fill="none"/>
<rect x="1260.35" y="296.6" width="2.15" height="10.7" fill="#d2d2d2" stroke="#000" stroke-width="1.05"/>
<path d="M1266.5,289.0V303.2M1264.8,296.8H1268.2" stroke="#000" stroke-width="1.15" fill="none"/>
<path d="M1270.5,295.7V314.0" stroke="#000" stroke-width="1.15" fill="none"/>
<rect x="1268.1" y="297.3" width="3.8" height="9.5" fill="#000"/>
<path d="M1275.5,308.2V319.0" stroke="#000" stroke-width="1.15" fill="none"/>
<rect x="1273.1" y="308.2" width="3.8" height="4.9" fill="#000"/>
<path d="M1279.5,308.2V338.9" stroke="#000" stroke-width="1.15" fill="none"/>
<rect x="1277.1" y="313.1" width="3.8" height="23.0" fill="#000"/>
<path d="M1284.5,336.1V340.6" stroke="#000" stroke-width="1.15" fill="none"/>
<rect x="1283.35" y="321.6" width="2.15" height="14.1" fill="#d2d2d2" stroke="#000" stroke-width="1.05"/>
<path d="M1288.5,309.0V309.8" stroke="#000" stroke-width="1.15" fill="none"/>
<rect x="1287.35" y="289.4" width="2.15" height="19.1" fill="#d2d2d2" stroke="#000" stroke-width="1.05"/>
<path d="M1293.5,269.1V276.2" stroke="#000" stroke-width="1.15" fill="none"/>
<path d="M1293.5,288.2V293.5" stroke="#000" stroke-width="1.15" fill="none"/>
<rect x="1292.35" y="276.6" width="2.15" height="11.1" fill="#d2d2d2" stroke="#000" stroke-width="1.05"/>
<path d="M1298.5,274.9V293.5" stroke="#000" stroke-width="1.15" fill="none"/>
<rect x="1296.1" y="276.2" width="3.8" height="10.7" fill="#000"/>
<path d="M1302.5,276.2V279.9" stroke="#000" stroke-width="1.15" fill="none"/>
<path d="M1302.5,288.5V294.5" stroke="#000" stroke-width="1.15" fill="none"/>
<rect x="1301.35" y="280.3" width="2.15" height="7.7" fill="#d2d2d2" stroke="#000" stroke-width="1.05"/>
<path d="M1307.5,277.4V289.0" stroke="#000" stroke-width="1.15" fill="none"/>
<rect x="1305.1" y="279.1" width="3.8" height="8.8" fill="#000"/>
<path d="M1311.5,280.2V284.0" stroke="#000" stroke-width="1.15" fill="none"/>
<path d="M1311.5,287.9V294.5" stroke="#000" stroke-width="1.15" fill="none"/>
<rect x="1310.35" y="284.4" width="2.15" height="3.0" fill="#d2d2d2" stroke="#000" stroke-width="1.05"/>
<path d="M1316.5,259.9V264.6" stroke="#000" stroke-width="1.15" fill="none"/>
<path d="M1316.5,275.2V276.6" stroke="#000" stroke-width="1.15" fill="none"/>
<rect x="1315.35" y="265.1" width="2.15" height="9.7" fill="#d2d2d2" stroke="#000" stroke-width="1.05"/>
<path d="M1320.5,259.9V270.7M1318.8,263.3H1322.2" stroke="#000" stroke-width="1.15" fill="none"/>
<path d="M1325.5,260.8V273.2" stroke="#000" stroke-width="1.15" fill="none"/>
<rect x="1323.1" y="262.9" width="3.8" height="7.0" fill="#000"/>
<path d="M1330.5,245.0V261.6M1328.8,259.9H1332.2" stroke="#000" stroke-width="1.15" fill="none"/>
<path d="M1334.5,258.3V273.6" stroke="#000" stroke-width="1.15" fill="none"/>
<rect x="1332.1" y="260.8" width="3.8" height="6.1" fill="#000"/>
<path d="M1339.5,261.6V262.4" stroke="#000" stroke-width="1.15" fill="none"/>
<path d="M1339.5,266.9V269.9" stroke="#000" stroke-width="1.15" fill="none"/>
<rect x="1338.35" y="262.8" width="2.15" height="3.6" fill="#d2d2d2" stroke="#000" stroke-width="1.05"/>
<path d="M1343.5,264.6V284.5" stroke="#000" stroke-width="1.15" fill="none"/>
<rect x="1341.1" y="266.9" width="3.8" height="13.0" fill="#000"/>
<path d="M1348.5,278.6V294.9" stroke="#000" stroke-width="1.15" fill="none"/>
<rect x="1346.1" y="279.9" width="3.8" height="2.5" fill="#000"/>
<path d="M1352.5,282.4V286.5" stroke="#000" stroke-width="1.15" fill="none"/>
<rect x="1351.35" y="274.1" width="2.15" height="7.9" fill="#d2d2d2" stroke="#000" stroke-width="1.05"/>
<path d="M1357.5,267.4V294.0" stroke="#000" stroke-width="1.15" fill="none"/>
<rect x="1355.1" y="276.6" width="3.8" height="9.1" fill="#000"/>
<path d="M1362.5,278.2V291.9M1360.8,285.2H1364.2" stroke="#000" stroke-width="1.15" fill="none"/>
<path d="M1366.5,281.6V291.2" stroke="#000" stroke-width="1.15" fill="none"/>
<rect x="1364.1" y="286.5" width="3.8" height="4.7" fill="#000"/>
<path d="M1371.5,283.2V309.8" stroke="#000" stroke-width="1.15" fill="none"/>
<rect x="1369.1" y="286.9" width="3.8" height="14.9" fill="#000"/>
<path d="M1375.5,291.2V298.5" stroke="#000" stroke-width="1.15" fill="none"/>
<path d="M1375.5,302.3V313.1" stroke="#000" stroke-width="1.15" fill="none"/>
<rect x="1374.35" y="298.9" width="2.15" height="2.9" fill="#d2d2d2" stroke="#000" stroke-width="1.05"/>
<path d="M1380.5,296.5V321.8" stroke="#000" stroke-width="1.15" fill="none"/>
<rect x="1378.1" y="298.2" width="3.8" height="23.6" fill="#000"/>
<path d="M1385.5,309.0V310.6" stroke="#000" stroke-width="1.15" fill="none"/>
<rect x="1384.35" y="311.1" width="2.15" height="8.3" fill="#d2d2d2" stroke="#000" stroke-width="1.05"/>
<path d="M1389.5,306.5V323.1" stroke="#000" stroke-width="1.15" fill="none"/>
<rect x="1387.1" y="311.1" width="3.8" height="5.4" fill="#000"/>
<path d="M1394.5,314.0V320.6" stroke="#000" stroke-width="1.15" fill="none"/>
<rect x="1392.1" y="316.8" width="3.8" height="3.8" fill="#000"/>
<path d="M1398.5,307.3V315.6M1396.8,312.6H1400.2" stroke="#000" stroke-width="1.15" fill="none"/>
<path d="M1403.5,312.3V322.6" stroke="#000" stroke-width="1.15" fill="none"/>
<rect x="1401.1" y="313.5" width="3.8" height="3.3" fill="#000"/>
<path d="M1407.5,310.1V321.1M1405.8,317.6H1409.2" stroke="#000" stroke-width="1.15" fill="none"/>
<path d="M1412.5,313.7V324.5" stroke="#000" stroke-width="1.15" fill="none"/>
<rect x="1410.1" y="319.3" width="3.8" height="5.2" fill="#000"/>
<path d="M1417.5,322.3V337.5" stroke="#000" stroke-width="1.15" fill="none"/>
<rect x="1415.1" y="324.2" width="3.8" height="13.3" fill="#000"/>
<path d="M1421.5,333.2V339.7M1419.8,336.5H1423.2" stroke="#000" stroke-width="1.15" fill="none"/>
</g>
<line x1="1421.5" y1="336.5" x2="1476" y2="336.5" stroke="#000" stroke-width="1" shape-rendering="crispEdges"/>
<rect x="553" y="351" width="198" height="212" fill="#fff"/>
<rect x="751" y="405" width="186" height="128" fill="#fff"/>
<text class="lg" x="555.5" y="364" fill="#0000ff">MOV( 144 )</text>
<text class="lg" x="633.5" y="364" fill="#0000ff">: 13.944,21</text>
<use href="#ck" x="728.5" y="359.4"/>
<text class="lg" x="555.5" y="378" fill="#ff00ff">MOV( 89 )</text>
<text class="lg" x="633.5" y="378" fill="#ff00ff">: 13.916,10</text>
<use href="#ck" x="728.5" y="373.4"/>
<text class="lg" x="555.5" y="392" fill="#ff8000">HLine</text>
<text class="lg" x="633.5" y="392" fill="#ff8000">: 15285,00</text>
<use href="#ck" x="728.5" y="387.4"/>
<text class="lg" x="555.5" y="406" fill="#000">HLine</text>
<text class="lg" x="633.5" y="406" fill="#000">: 12230,00</text>
<use href="#ck" x="728.5" y="401.4"/>
<text class="lg" x="555.5" y="420" fill="#000">HLine</text>
<text class="lg" x="633.5" y="420" fill="#000">: 12616,60</text>
<use href="#ck" x="728.5" y="415.4"/>
<text class="lg" x="555.5" y="434" fill="#ff8000">HLine</text>
<text class="lg" x="633.5" y="434" fill="#ff8000">: 13330,00</text>
<use href="#ck" x="728.5" y="429.4"/>
<text class="lg" x="555.5" y="448" fill="#ff8000">HLine</text>
<text class="lg" x="633.5" y="448" fill="#ff8000">: 14000,00</text>
<use href="#ck" x="728.5" y="443.4"/>
<text class="lg" x="555.5" y="462" fill="#000">HLine</text>
<text class="lg" x="633.5" y="462" fill="#000">: 11630,00</text>
<use href="#ck" x="728.5" y="457.4"/>
<text class="lg" x="555.5" y="476" fill="#ff8000">HLine</text>
<text class="lg" x="633.5" y="476" fill="#ff8000">: 13050,00</text>
<use href="#ck" x="728.5" y="471.4"/>
<text class="lg" x="555.5" y="490" fill="#ff8000">HLine</text>
<text class="lg" x="633.5" y="490" fill="#ff8000">: 14365,00</text>
<use href="#ck" x="728.5" y="485.4"/>
<text class="lg" x="555.5" y="504" fill="#000">HLine</text>
<text class="lg" x="633.5" y="504" fill="#000">: 12450,00</text>
<use href="#ck" x="728.5" y="499.4"/>
<text class="lg" x="555.5" y="518" fill="#ff8000">HLine</text>
<text class="lg" x="633.5" y="518" fill="#ff8000">: 12800,00</text>
<use href="#ck" x="728.5" y="513.4"/>
<text class="lg" x="555.5" y="532" fill="#ff8000">HLine</text>
<text class="lg" x="633.5" y="532" fill="#ff8000">: 13680,00</text>
<use href="#ck" x="728.5" y="527.4"/>
<text class="lg" x="555.5" y="546" fill="#ff8000">HLine</text>
<text class="lg" x="633.5" y="546" fill="#ff8000">: 14715,00</text>
<use href="#ck" x="728.5" y="541.4"/>
<text class="lg" x="555.5" y="560" fill="#ff8000">HLine</text>
<text class="lg" x="633.5" y="560" fill="#ff8000">: 15040,00</text>
<use href="#ck" x="728.5" y="555.4"/>
<text class="lg" x="753" y="418" fill="#000">28.11.2025</text>
<text class="lg" x="831.5" y="418" fill="#000">16:00:00</text>
<text class="lg" x="753" y="432" fill="#000">XUSIN</text>
<text class="lg" x="753" y="446" fill="#000">Açılış</text>
<text class="lg" x="831.5" y="446" fill="#000">13530,71</text>
<text class="lg" x="753" y="460" fill="#000">Yüksek</text>
<text class="lg" x="831.5" y="460" fill="#000">13556,12</text>
<text class="lg" x="753" y="474" fill="#000">Düşük</text>
<text class="lg" x="831.5" y="474" fill="#000">13518,94</text>
<text class="lg" x="753" y="488" fill="#000">Kapanış</text>
<text class="lg" x="831.5" y="488" fill="#000">13540,95</text>
<text class="lg" x="753" y="502" fill="#000">O.Kap.Fark</text>
<text class="lg" x="831.5" y="502" fill="#000">9,96</text>
<text class="lg" x="753" y="516" fill="#000">Miktar</text>
<text class="lg" x="831.5" y="516" fill="#000">781191442,00</text>
<text class="lg" x="753" y="530" fill="#000">Değer</text>
<text class="lg" x="831.5" y="530" fill="#000">13547,68</text>
<rect x="1477" y="14" width="59" height="747" fill="#fff"/>
<g shape-rendering="crispEdges" stroke="#000" stroke-width="1">
<line x1="1476.5" y1="14" x2="1476.5" y2="609"/>
<line x1="1476.5" y1="611" x2="1476.5" y2="760"/>
<line x1="1476" y1="588.5" x2="1483" y2="588.5"/>
<line x1="1476" y1="572.5" x2="1480" y2="572.5"/>
<line x1="1476" y1="555.5" x2="1483" y2="555.5"/>
<line x1="1476" y1="539.5" x2="1480" y2="539.5"/>
<line x1="1476" y1="523.5" x2="1483" y2="523.5"/>
<line x1="1476" y1="506.5" x2="1480" y2="506.5"/>
<line x1="1476" y1="490.5" x2="1483" y2="490.5"/>
<line x1="1476" y1="474.5" x2="1480" y2="474.5"/>
<line x1="1476" y1="457.5" x2="1483" y2="457.5"/>
<line x1="1476" y1="441.5" x2="1480" y2="441.5"/>
<line x1="1476" y1="425.5" x2="1483" y2="425.5"/>
<line x1="1476" y1="408.5" x2="1480" y2="408.5"/>
<line x1="1476" y1="392.5" x2="1483" y2="392.5"/>
<line x1="1476" y1="376.5" x2="1480" y2="376.5"/>
<line x1="1476" y1="359.5" x2="1483" y2="359.5"/>
<line x1="1476" y1="343.5" x2="1480" y2="343.5"/>
<line x1="1476" y1="327.5" x2="1483" y2="327.5"/>
<line x1="1476" y1="310.5" x2="1480" y2="310.5"/>
<line x1="1476" y1="294.5" x2="1483" y2="294.5"/>
<line x1="1476" y1="278.5" x2="1480" y2="278.5"/>
<line x1="1476" y1="261.5" x2="1483" y2="261.5"/>
<line x1="1476" y1="245.5" x2="1480" y2="245.5"/>
<line x1="1476" y1="229.5" x2="1483" y2="229.5"/>
<line x1="1476" y1="212.5" x2="1480" y2="212.5"/>
<line x1="1476" y1="196.5" x2="1483" y2="196.5"/>
<line x1="1476" y1="179.5" x2="1480" y2="179.5"/>
<line x1="1476" y1="163.5" x2="1483" y2="163.5"/>
<line x1="1476" y1="147.5" x2="1480" y2="147.5"/>
<line x1="1476" y1="130.5" x2="1483" y2="130.5"/>
</g>
<text class="ax" x="1487" y="593.1">12000,0</text>
<text class="ax" x="1487" y="560.1">12200,0</text>
<text class="ax" x="1487" y="528.1">12400,0</text>
<text class="ax" x="1487" y="495.1">12600,0</text>
<text class="ax" x="1487" y="462.1">12800,0</text>
<text class="ax" x="1487" y="430.1">13000,0</text>
<text class="ax" x="1487" y="397.1">13200,0</text>
<text class="ax" x="1487" y="364.1">13400,0</text>
<text class="ax" x="1487" y="332.1">13600,0</text>
<text class="ax" x="1487" y="299.1">13800,0</text>
<text class="ax" x="1487" y="266.1">14000,0</text>
<text class="ax" x="1487" y="234.1">14200,0</text>
<text class="ax" x="1487" y="201.1">14400,0</text>
<text class="ax" x="1487" y="168.1">14600,0</text>
<text class="ax" x="1487" y="135.1">14800,0</text>
<rect x="1476" y="41" width="60" height="20" fill="#ff8000"/>
<text class="pl" x="1487" y="54.9" fill="#000">15285,</text>
<rect x="1476" y="81" width="60" height="20" fill="#ff8000"/>
<text class="pl" x="1487" y="94.9" fill="#000">15040,</text>
<rect x="1476" y="134" width="60" height="20" fill="#ff8000"/>
<text class="pl" x="1487" y="147.9" fill="#000">14715,</text>
<rect x="1476" y="191" width="60" height="20" fill="#ff8000"/>
<text class="pl" x="1487" y="204.9" fill="#000">14365,</text>
<rect x="1476" y="251" width="60" height="20" fill="#ff8000"/>
<text class="pl" x="1487" y="264.9" fill="#000">14000,</text>
<rect x="1476" y="303" width="60" height="20" fill="#ff8000"/>
<text class="pl" x="1487" y="316.9" fill="#000">13680,</text>
<rect x="1476" y="360" width="60" height="20" fill="#ff8000"/>
<text class="pl" x="1487" y="373.9" fill="#000">13330,</text>
<rect x="1476" y="406" width="60" height="20" fill="#ff8000"/>
<text class="pl" x="1487" y="419.9" fill="#000">13050,</text>
<rect x="1476" y="447" width="60" height="20" fill="#ff8000"/>
<text class="pl" x="1487" y="460.9" fill="#000">12800,</text>
<rect x="1476" y="477" width="60" height="20" fill="#000"/>
<text class="pl" x="1487" y="490.9" fill="#fff">12616,</text>
<rect x="1476" y="504" width="60" height="20" fill="#000"/>
<text class="pl" x="1487" y="517.9" fill="#fff">12450,</text>
<rect x="1476" y="540" width="60" height="20" fill="#000"/>
<text class="pl" x="1487" y="553.9" fill="#fff">12230,</text>
<rect x="1476" y="326" width="60" height="20" fill="#000"/>
<text class="ax" x="1487" y="340.4" style="fill:#fff">13540,</text>
<g shape-rendering="crispEdges">
<rect x="0" y="609" width="1536" height="2" fill="#d0d0d0"/>
<line x1="0" y1="658.5" x2="1480" y2="658.5" stroke="#000" stroke-width="1"/>
<line x1="0" y1="723.5" x2="1480" y2="723.5" stroke="#303030" stroke-width="1"/>
<line x1="1476" y1="643.5" x2="1483" y2="643.5" stroke="#000" stroke-width="1"/>
<line x1="1476" y1="675.5" x2="1483" y2="675.5" stroke="#000" stroke-width="1"/>
<line x1="1476" y1="708.5" x2="1483" y2="708.5" stroke="#000" stroke-width="1"/>
<line x1="1476" y1="740.5" x2="1483" y2="740.5" stroke="#000" stroke-width="1"/>
<line x1="1476" y1="691.5" x2="1481" y2="691.5" stroke="#000" stroke-width="1"/>
</g>
<text class="ax" x="1487" y="647.8">80,00</text>
<text class="ax" x="1487" y="679.8">60,00</text>
<text class="ax" x="1487" y="712.8">40,00</text>
<text class="ax" x="1487" y="744.8">20,00</text>
<polyline points="3.5,650.3 8.5,656.7 12.5,652.5 17.5,673.0 22.5,670.8 26.5,673.7 31.5,670.5 35.5,687.5 40.5,691.3 44.5,680.8 49.5,678.0 54.5,677.8 58.5,663.7 63.5,664.5 67.5,663.7 72.5,659.2 76.5,664.2 81.5,664.2 86.5,663.3 90.5,671.3 95.5,674.5 99.5,667.5 104.5,690.5 108.5,689.2 113.5,679.2 118.5,675.5 122.5,670.8 127.5,672.5 131.5,669.2 136.5,668.0 140.5,655.8 145.5,653.3 150.5,651.2 154.5,647.5 159.5,651.2 163.5,653.0 168.5,649.5 172.5,660.0 177.5,663.3 182.5,658.3 186.5,653.3 191.5,658.7 195.5,667.5 200.5,666.7 204.5,667.8 209.5,671.3 214.5,670.5 218.5,679.2 223.5,683.3 227.5,682.5 232.5,692.5 237.5,676.7 241.5,676.7 246.5,675.0 250.5,663.8 255.5,667.2 259.5,664.2 264.5,661.2 269.5,658.7 273.5,661.3 278.5,654.5 282.5,659.7 287.5,657.0 291.5,649.5 296.5,653.3 301.5,657.5 305.5,655.5 310.5,654.2 314.5,652.0 319.5,647.0 323.5,646.2 328.5,658.7 333.5,662.2 337.5,659.7 342.5,663.0 346.5,653.7 351.5,655.5 355.5,661.7 360.5,682.8 365.5,680.8 369.5,687.0 374.5,679.7 378.5,678.7 383.5,679.2 387.5,683.8 392.5,681.7 397.5,691.7 401.5,678.8 406.5,676.2 410.5,672.8 415.5,662.8 419.5,661.2 424.5,657.2 429.5,656.2 433.5,656.2 438.5,661.3 442.5,655.5 447.5,652.0 451.5,651.7 456.5,642.2 461.5,640.0 465.5,637.2 470.5,632.0 474.5,651.3 479.5,645.8 483.5,639.7 488.5,639.5 493.5,638.0 497.5,643.7 502.5,642.0 506.5,648.0 511.5,661.7 516.5,670.0 520.5,678.8 525.5,670.8 529.5,672.0 534.5,677.5 538.5,680.0 543.5,678.3 548.5,686.3 552.5,686.3 557.5,682.5 561.5,680.8 566.5,688.0 570.5,728.3 575.5,710.8 580.5,714.7 584.5,715.8 589.5,709.2 593.5,699.5 598.5,702.5 602.5,701.3 607.5,705.0 612.5,708.3 616.5,711.7 621.5,723.7 625.5,727.5 630.5,724.5 634.5,713.7 639.5,708.0 644.5,715.3 648.5,718.0 653.5,719.2 657.5,710.0 662.5,701.2 666.5,705.8 671.5,716.3 676.5,721.3 680.5,721.3 685.5,717.5 689.5,686.7 694.5,677.5 698.5,673.8 703.5,669.2 708.5,665.0 712.5,662.2 717.5,660.5 721.5,660.5 726.5,665.3 730.5,660.0 735.5,658.7 740.5,676.7 744.5,675.8 749.5,670.0 753.5,665.0 758.5,657.0 762.5,661.7 767.5,663.3 772.5,665.8 776.5,670.3 781.5,670.5 785.5,674.2 790.5,670.3 795.5,673.0 799.5,668.0 804.5,679.2 808.5,672.8 813.5,687.5 817.5,687.8 822.5,697.8 827.5,702.0 831.5,704.2 836.5,712.5 840.5,718.7 845.5,720.3 849.5,714.7 854.5,722.2 859.5,700.8 863.5,701.3 868.5,706.2 872.5,707.5 877.5,709.5 881.5,712.2 886.5,713.7 891.5,717.5 895.5,714.7 900.5,718.7 904.5,722.8 909.5,723.3 913.5,713.8 918.5,714.2 923.5,713.3 927.5,719.7 932.5,721.2 936.5,713.7 941.5,710.3 945.5,712.0 950.5,712.5 955.5,718.0 959.5,710.0 964.5,716.7 968.5,724.2 973.5,729.5 977.5,732.8 982.5,733.0 987.5,739.2 991.5,735.8 996.5,713.3 1000.5,705.5 1005.5,703.0 1009.5,712.2 1014.5,715.8 1019.5,729.2 1023.5,715.3 1028.5,713.8 1032.5,713.3 1037.5,701.2 1041.5,695.0 1046.5,697.2 1051.5,695.3 1055.5,697.0 1060.5,685.3 1064.5,691.7 1069.5,692.5 1073.5,683.7 1078.5,680.8 1083.5,685.3 1087.5,665.5 1092.5,664.2 1096.5,664.2 1101.5,663.3 1106.5,667.8 1110.5,669.5 1115.5,665.3 1119.5,672.0 1124.5,666.7 1128.5,664.2 1133.5,669.2 1138.5,662.0 1142.5,663.7 1147.5,660.3 1151.5,649.7 1156.5,648.7 1160.5,654.2 1165.5,676.7 1170.5,680.0 1174.5,678.3 1179.5,678.3 1183.5,678.3 1188.5,674.5 1192.5,674.5 1197.5,669.2 1202.5,676.2 1206.5,689.2 1211.5,689.2 1215.5,697.2 1220.5,699.7 1224.5,706.2 1229.5,711.7 1234.5,717.8 1238.5,728.0 1243.5,730.0 1247.5,717.2 1252.5,721.3 1256.5,722.5 1261.5,710.5 1266.5,710.8 1270.5,714.7 1275.5,717.2 1279.5,724.7 1284.5,714.2 1288.5,696.3 1293.5,690.5 1298.5,695.3 1302.5,692.2 1307.5,695.8 1311.5,693.7 1316.5,684.7 1320.5,683.3 1325.5,687.5 1330.5,683.3 1334.5,687.0 1339.5,684.2 1343.5,694.5 1348.5,695.8 1352.5,690.3 1357.5,697.2 1362.5,697.5 1366.5,700.8 1371.5,706.3 1375.5,703.7 1380.5,715.0 1385.5,706.7 1389.5,709.5 1394.5,711.7 1398.5,705.8 1403.5,708.0 1407.5,708.7 1412.5,711.7 1417.5,718.7 1421.5,717.0" fill="none" stroke="#ff0000" stroke-width="1.1" stroke-linejoin="round" stroke-linecap="round"/>
<text class="lg" x="2.5" y="622" fill="#ff0000">RSI( 14 )</text>
<text class="lg" x="72.5" y="622" fill="#ff0000">: 34,09</text>
<use href="#ck" x="135.5" y="617.6"/>
<rect x="1462" y="15.8" width="13.2" height="8.6" rx="2.5" ry="2.5" fill="#fbeeb0" stroke="#e2ca74" stroke-width="1"/>
<text x="1468.6" y="22.0" font-size="8" font-weight="bold" text-anchor="middle" fill="#333">[]</text>
<rect x="1446.5" y="612.5" width="13.5" height="9" rx="2.5" ry="2.5" fill="#fbeeb0" stroke="#e2ca74" stroke-width="1"/>
<text x="1453.25" y="619.1" font-size="8" font-weight="bold" text-anchor="middle" fill="#333">[]</text>
<rect x="1462" y="612.5" width="13.2" height="9" rx="2.5" ry="2.5" fill="#fbeeb0" stroke="#e2ca74" stroke-width="1"/>
<text x="1468.6" y="619.1" font-size="8" font-weight="bold" text-anchor="middle" fill="#333">x</text>
<g shape-rendering="crispEdges">
<rect x="0" y="760" width="1536" height="2" fill="#d0d0d0"/>
<rect x="0" y="762" width="1476" height="1" fill="#000"/>
<rect x="3" y="762" width="1" height="20" fill="#000"/>
<rect x="94" y="762" width="1" height="20" fill="#000"/>
<rect x="186" y="762" width="1" height="20" fill="#000"/>
<rect x="278" y="762" width="1" height="20" fill="#000"/>
<rect x="369" y="762" width="1" height="20" fill="#000"/>
<rect x="460" y="762" width="1" height="20" fill="#000"/>
<rect x="552" y="762" width="1" height="20" fill="#000"/>
<rect x="644" y="762" width="1" height="20" fill="#000"/>
<rect x="735" y="762" width="1" height="20" fill="#000"/>
<rect x="826" y="762" width="1" height="20" fill="#000"/>
<rect x="918" y="762" width="1" height="20" fill="#000"/>
<rect x="1010" y="762" width="1" height="20" fill="#000"/>
<rect x="1101" y="762" width="1" height="20" fill="#000"/>
<rect x="1192" y="762" width="1" height="20" fill="#000"/>
<rect x="1284" y="762" width="1" height="20" fill="#000"/>
<rect x="1376" y="762" width="1" height="20" fill="#000"/>
<rect x="1467" y="762" width="1" height="20" fill="#000"/>
</g>
<text class="tm" x="3.8" y="777.3" textLength="53" lengthAdjust="spacingAndGlyphs">04-08:00</text>
<text class="tm" x="94.8" y="777.3" textLength="53" lengthAdjust="spacingAndGlyphs">14-16:00</text>
<text class="tm" x="186.8" y="777.3" textLength="53" lengthAdjust="spacingAndGlyphs">24-12:00</text>
<text class="tm" x="278.8" y="777.3" textLength="53" lengthAdjust="spacingAndGlyphs">04-08:00</text>
<text class="tm" x="369.8" y="777.3" textLength="53" lengthAdjust="spacingAndGlyphs">12-16:00</text>
<text class="tm" x="460.8" y="777.3" textLength="53" lengthAdjust="spacingAndGlyphs">21-12:00</text>
<text class="tm" x="552.8" y="777.3" textLength="53" lengthAdjust="spacingAndGlyphs">01-08:00</text>
<text class="tm" x="644.8" y="777.3" textLength="53" lengthAdjust="spacingAndGlyphs">09-16:00</text>
<text class="tm" x="735.8" y="777.3" textLength="53" lengthAdjust="spacingAndGlyphs">18-12:00</text>
<text class="tm" x="826.8" y="777.3" textLength="53" lengthAdjust="spacingAndGlyphs">29-08:00</text>
<text class="tm" x="918.8" y="777.3" textLength="53" lengthAdjust="spacingAndGlyphs">07-16:00</text>
<text class="tm" x="1010.8" y="777.3" textLength="53" lengthAdjust="spacingAndGlyphs">16-12:00</text>
<text class="tm" x="1101.8" y="777.3" textLength="53" lengthAdjust="spacingAndGlyphs">27-08:00</text>
<text class="tm" x="1192.8" y="777.3" textLength="53" lengthAdjust="spacingAndGlyphs">06-08:00</text>
<text class="tm" x="1284.8" y="777.3" textLength="53" lengthAdjust="spacingAndGlyphs">14-16:00</text>
<text class="tm" x="1376.8" y="777.3" textLength="53" lengthAdjust="spacingAndGlyphs">25-12:00</text>
<text class="tm" x="1467.8" y="777.3" textLength="53" lengthAdjust="spacingAndGlyphs">30-08:00</text>
<rect x="0" y="0" width="1026" height="14" fill="url(#gb)"/>
<rect x="1026" y="0" width="468" height="14" fill="url(#gs)"/>
<rect x="0.5" y="0.5" width="13" height="13" fill="url(#gp2)" stroke="#7c3054" stroke-width="1"/>
<path d="M4.900,5 L8.900,9 M8.900,5 L4.900,9" stroke="#fff" stroke-width="1.600"/>
<text x="16" y="9.800" font-size="9.100" font-weight="bold" fill="#fff" stroke="#fff" stroke-width="0.3" textLength="178" lengthAdjust="spacingAndGlyphs">XUSIN BIST SINAI - 4 Saatlik (.4h)</text>
<defs><linearGradient id="gg" x1="0" y1="0" x2="1" y2="0"><stop offset="0" stop-color="#e8f4e4"/><stop offset="1" stop-color="#78c078"/></linearGradient><linearGradient id="gr" x1="0" y1="0" x2="1" y2="0"><stop offset="0" stop-color="#fdeaea"/><stop offset="1" stop-color="#f05050"/></linearGradient><linearGradient id="gc" x1="0" y1="0" x2="0" y2="1"><stop offset="0" stop-color="#f8e060"/><stop offset="1" stop-color="#a07808"/></linearGradient></defs>
<rect x="1027.800" y="2" width="11" height="11" fill="url(#gg)"/>
<path d="M1028.500,2.500h3l-1.500,2z" fill="#205020"/>
<rect x="1031.6" y="2.2" width="5" height="2" rx="0.8" fill="url(#gc)" stroke="#5a4000" stroke-width="0.35"/>
<rect x="1030.6" y="4.6" width="5" height="2" rx="0.8" fill="url(#gc)" stroke="#5a4000" stroke-width="0.35"/>
<rect x="1032.2" y="7" width="5" height="2" rx="0.8" fill="url(#gc)" stroke="#5a4000" stroke-width="0.35"/>
<rect x="1030.8" y="9.4" width="5" height="2" rx="0.8" fill="url(#gc)" stroke="#5a4000" stroke-width="0.35"/>
<rect x="1031.8" y="11.4" width="5" height="2" rx="0.8" fill="url(#gc)" stroke="#5a4000" stroke-width="0.35"/>
<rect x="1042" y="2" width="10.500" height="11" fill="url(#gr)"/>
<rect x="1045.2" y="3.4" width="5" height="2" rx="0.8" fill="url(#gc)" stroke="#5a4000" stroke-width="0.35"/>
<rect x="1044.2" y="5.6" width="5" height="2" rx="0.8" fill="url(#gc)" stroke="#5a4000" stroke-width="0.35"/>
<rect x="1045.4" y="7.8" width="5" height="2" rx="0.8" fill="url(#gc)" stroke="#5a4000" stroke-width="0.35"/>
<rect x="1044.2" y="10" width="5" height="2" rx="0.8" fill="url(#gc)" stroke="#5a4000" stroke-width="0.35"/>
<rect x="1045" y="11.6" width="5" height="2" rx="0.8" fill="url(#gc)" stroke="#5a4000" stroke-width="0.35"/>
<path d="M1050.200,11.500l1.200,-3.500l1,3.500z" fill="#e01010"/>
<path d="M1060,10.800V4.200h7" stroke="#2c2c34" stroke-width="1.900" fill="none"/><path d="M1063,10h1.800q1.800,0 1.800,-1.800V7.200" stroke="#2c2c34" stroke-width="1.700" fill="none"/>
<text x="1071.400" y="8.900" font-size="5.600" font-weight="bold" fill="#808080" textLength="20.300" lengthAdjust="spacingAndGlyphs">Forinvest</text>
<rect x="1098.500" y="1.700" width="9.500" height="10.300" fill="#d0dcf8" stroke="#7c98d8" stroke-width="0.9"/>
<circle cx="1100.800" cy="4.200" r="1.100" fill="#2030c0"/><circle cx="1100.800" cy="7" r="1.200" fill="#e04030"/><circle cx="1100.800" cy="9.800" r="1.200" fill="#e8c020"/>
<path d="M1102.800,3.600h4M1102.800,7h4M1103.500,9.800h3.500" stroke="#3858c0" stroke-width="1.300"/>
<rect x="1113" y="1" width="10" height="6" fill="#f4f6ff" stroke="#4a80e0" stroke-width="0.8"/><rect x="1113" y="1" width="10" height="1.800" fill="#4a80e0"/>
<path d="M1113.500,6l1.700,-1.800l1.500,1l1.700,-2l1.600,2.500l1.500,-2l1,0.800" stroke="#e01818" stroke-width="1.100" fill="none"/>
<rect x="1111.300" y="7.200" width="10.300" height="5.300" fill="#f4f6ff" stroke="#5a88dc" stroke-width="0.9"/><rect x="1111.300" y="7.200" width="10.300" height="1.400" fill="#5a88dc"/>
<path d="M1112.300,10l1.500,1.300l1.700,-1l1.600,1.200l1.700,-1.200l1.700,0.600" stroke="#18a828" stroke-width="1.100" fill="none"/>
<path d="M1127.300,11.300L1135.600,3" stroke="#189830" stroke-width="3.600"/><path d="M1128.200,10.400L1136.200,2.400" stroke="#40c050" stroke-width="1"/>
<path d="M1125,13.200l3.900,-1.100l-2.700,-2.700z" fill="#e8a060"/><path d="M1125,13.200l1.600,-0.450l-1.100,-1.100z" fill="#101010"/>
<path d="M1134.600,1.500l2.600,2.600" stroke="#f0f0f0" stroke-width="1.200"/><path d="M1135.600,0.800l2.500,2.500" stroke="#e84040" stroke-width="2"/>
<path d="M1144.500,1.100l5.600,5.600l-5.600,5.600l-5.600,-5.600z" fill="#4a84e4"/><path d="M1144.500,4.300l2.400,2.400l-2.400,2.400l-2.400,-2.400z" fill="#f4f6fa"/><path d="M1141.300,3.500l6.400,6.400M1147.700,3.500l-6.400,6.400" stroke="#dfe8f8" stroke-width="0.9"/>
<path d="M1153,7.300h2.500l1.200,2.200l1.800,-6l2.400,7.800l2,-5.800l0.800,1.300l1.200,-0.800" stroke="#7890c4" stroke-width="0.9" fill="none"/>
<text class="tb" x="1177.8" y="10.3" textLength="36.5" lengthAdjust="spacingAndGlyphs">4 Saatlik</text>
<text class="tb" x="1246.5" y="10.3" textLength="19.5" lengthAdjust="spacingAndGlyphs">MUM</text>
<text class="tb" x="1311.3" y="10.3" textLength="9.1" lengthAdjust="spacingAndGlyphs">TL</text>
<text class="tb" x="1368.9" y="10.3" textLength="13.5" lengthAdjust="spacingAndGlyphs">LIN</text>
<text class="tb" x="1428.5" y="10.3" textLength="15.3" lengthAdjust="spacingAndGlyphs">IND</text>
<path d="M1470.300,10.600L1476,4.900" stroke="#4484e4" stroke-width="3"/><path d="M1471.800,3.200h6v6z" fill="#4484e4"/><path d="M1472.500,3.600h5" stroke="#2c64c4" stroke-width="0.6"/>
<path d="M1481.600,1.600L1487,7" stroke="#8c8c8c" stroke-width="1.300"/>
<path d="M1481.800,12.200L1490.500,3.500" stroke="#7a7a7a" stroke-width="2.600"/><path d="M1481.800,12.200L1490.500,3.500" stroke="#f4f4f4" stroke-width="1.500"/>
<path d="M1489.300,2.200a2.300,2.300 0 1 0 3,3" fill="none" stroke="#9a9a9a" stroke-width="1.400"/>
<path d="M1487.300,6.800L1492.300,12.200" stroke="#e03a24" stroke-width="2.700" stroke-linecap="round"/>
<defs><linearGradient id="gw2" x1="0" y1="0" x2="0" y2="1"><stop offset="0" stop-color="#4848ac"/><stop offset="0.12" stop-color="#8080d2"/><stop offset="0.3" stop-color="#4c4cb6"/><stop offset="0.9" stop-color="#5252ac"/><stop offset="1" stop-color="#3a3aa0"/></linearGradient><linearGradient id="gp2" x1="0" y1="0" x2="0" y2="1"><stop offset="0" stop-color="#703060"/><stop offset="0.14" stop-color="#8858a0"/><stop offset="0.35" stop-color="#5c2868"/><stop offset="1" stop-color="#643070"/></linearGradient></defs>
<rect x="1494" y="0" width="14" height="14" fill="url(#gw2)"/><rect x="1508" y="0" width="14" height="14" fill="url(#gw2)"/><rect x="1522" y="0" width="14" height="14" fill="url(#gp2)"/>
<path d="M1508,0v14" stroke="#3c3ca4" stroke-width="0.8"/><rect x="1522.400" y="0.400" width="13.200" height="13.200" fill="none" stroke="#7c3054" stroke-width="0.8"/>
<rect x="1499" y="7.800" width="4.200" height="2.200" fill="#fff"/>
<rect x="1512.700" y="4.700" width="3.600" height="3.600" fill="none" stroke="#fff" stroke-width="1.100"/><rect x="1514.400" y="6.300" width="3.600" height="3.600" fill="#4c4cb0" stroke="#fff" stroke-width="1.100"/>
<path d="M1526.600,4.900L1531.400,9.700M1531.400,4.900L1526.600,9.700" stroke="#fff" stroke-width="1.700"/>
</svg></body></html>
